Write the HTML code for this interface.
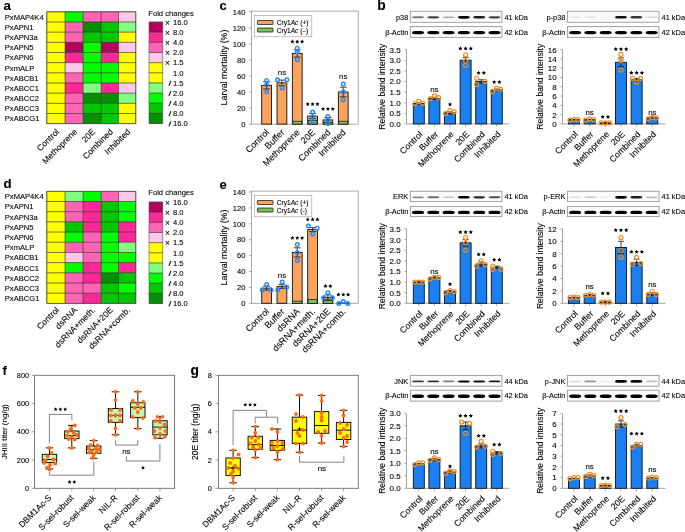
<!DOCTYPE html>
<html><head><meta charset="utf-8"><style>
html,body{margin:0;padding:0;background:#fff;}
svg{display:block;font-family:"Liberation Sans", sans-serif;will-change:transform;}
text{stroke:#000;stroke-width:0.18px;stroke-opacity:0.55;}
</style></head><body>
<svg width="685" height="532" viewBox="0 0 685 532">
<rect width="685" height="532" fill="#fff"/>
<text x="3.60" y="10.00" font-size="13.3" text-anchor="start" font-weight="bold" fill="#000">a</text>
<rect x="46.80" y="11.80" width="18.30" height="10.17" fill="#ffff00" stroke="none" stroke-width="0.8"/>
<rect x="65.10" y="11.80" width="18.00" height="10.17" fill="#00ff00" stroke="none" stroke-width="0.8"/>
<rect x="83.10" y="11.80" width="18.10" height="10.17" fill="#ff64b4" stroke="none" stroke-width="0.8"/>
<rect x="101.20" y="11.80" width="17.30" height="10.17" fill="#ff64b4" stroke="none" stroke-width="0.8"/>
<rect x="118.50" y="11.80" width="17.30" height="10.17" fill="#ffc8e6" stroke="none" stroke-width="0.8"/>
<rect x="46.80" y="21.97" width="18.30" height="10.17" fill="#ffff00" stroke="none" stroke-width="0.8"/>
<rect x="65.10" y="21.97" width="18.00" height="10.17" fill="#ff64b4" stroke="none" stroke-width="0.8"/>
<rect x="83.10" y="21.97" width="18.10" height="10.17" fill="#009000" stroke="none" stroke-width="0.8"/>
<rect x="101.20" y="21.97" width="17.30" height="10.17" fill="#00c800" stroke="none" stroke-width="0.8"/>
<rect x="118.50" y="21.97" width="17.30" height="10.17" fill="#80ff80" stroke="none" stroke-width="0.8"/>
<rect x="46.80" y="32.15" width="18.30" height="10.17" fill="#ffff00" stroke="none" stroke-width="0.8"/>
<rect x="65.10" y="32.15" width="18.00" height="10.17" fill="#ff64b4" stroke="none" stroke-width="0.8"/>
<rect x="83.10" y="32.15" width="18.10" height="10.17" fill="#00c800" stroke="none" stroke-width="0.8"/>
<rect x="101.20" y="32.15" width="17.30" height="10.17" fill="#00c800" stroke="none" stroke-width="0.8"/>
<rect x="118.50" y="32.15" width="17.30" height="10.17" fill="#ffff00" stroke="none" stroke-width="0.8"/>
<rect x="46.80" y="42.32" width="18.30" height="10.17" fill="#ffff00" stroke="none" stroke-width="0.8"/>
<rect x="65.10" y="42.32" width="18.00" height="10.17" fill="#b4005a" stroke="none" stroke-width="0.8"/>
<rect x="83.10" y="42.32" width="18.10" height="10.17" fill="#00ff00" stroke="none" stroke-width="0.8"/>
<rect x="101.20" y="42.32" width="17.30" height="10.17" fill="#b4005a" stroke="none" stroke-width="0.8"/>
<rect x="118.50" y="42.32" width="17.30" height="10.17" fill="#ffc8e6" stroke="none" stroke-width="0.8"/>
<rect x="46.80" y="52.49" width="18.30" height="10.17" fill="#ffff00" stroke="none" stroke-width="0.8"/>
<rect x="65.10" y="52.49" width="18.00" height="10.17" fill="#ff2896" stroke="none" stroke-width="0.8"/>
<rect x="83.10" y="52.49" width="18.10" height="10.17" fill="#00ff00" stroke="none" stroke-width="0.8"/>
<rect x="101.20" y="52.49" width="17.30" height="10.17" fill="#ff2896" stroke="none" stroke-width="0.8"/>
<rect x="118.50" y="52.49" width="17.30" height="10.17" fill="#ffff00" stroke="none" stroke-width="0.8"/>
<rect x="46.80" y="62.66" width="18.30" height="10.17" fill="#ffff00" stroke="none" stroke-width="0.8"/>
<rect x="65.10" y="62.66" width="18.00" height="10.17" fill="#ffc8e6" stroke="none" stroke-width="0.8"/>
<rect x="83.10" y="62.66" width="18.10" height="10.17" fill="#00ff00" stroke="none" stroke-width="0.8"/>
<rect x="101.20" y="62.66" width="17.30" height="10.17" fill="#00ff00" stroke="none" stroke-width="0.8"/>
<rect x="118.50" y="62.66" width="17.30" height="10.17" fill="#ffff00" stroke="none" stroke-width="0.8"/>
<rect x="46.80" y="72.84" width="18.30" height="10.17" fill="#ffff00" stroke="none" stroke-width="0.8"/>
<rect x="65.10" y="72.84" width="18.00" height="10.17" fill="#ff64b4" stroke="none" stroke-width="0.8"/>
<rect x="83.10" y="72.84" width="18.10" height="10.17" fill="#00ff00" stroke="none" stroke-width="0.8"/>
<rect x="101.20" y="72.84" width="17.30" height="10.17" fill="#00ff00" stroke="none" stroke-width="0.8"/>
<rect x="118.50" y="72.84" width="17.30" height="10.17" fill="#ffff00" stroke="none" stroke-width="0.8"/>
<rect x="46.80" y="83.01" width="18.30" height="10.17" fill="#ffff00" stroke="none" stroke-width="0.8"/>
<rect x="65.10" y="83.01" width="18.00" height="10.17" fill="#ff2896" stroke="none" stroke-width="0.8"/>
<rect x="83.10" y="83.01" width="18.10" height="10.17" fill="#80ff80" stroke="none" stroke-width="0.8"/>
<rect x="101.20" y="83.01" width="17.30" height="10.17" fill="#ff2896" stroke="none" stroke-width="0.8"/>
<rect x="118.50" y="83.01" width="17.30" height="10.17" fill="#ffc8e6" stroke="none" stroke-width="0.8"/>
<rect x="46.80" y="93.18" width="18.30" height="10.17" fill="#ffff00" stroke="none" stroke-width="0.8"/>
<rect x="65.10" y="93.18" width="18.00" height="10.17" fill="#ff64b4" stroke="none" stroke-width="0.8"/>
<rect x="83.10" y="93.18" width="18.10" height="10.17" fill="#009000" stroke="none" stroke-width="0.8"/>
<rect x="101.20" y="93.18" width="17.30" height="10.17" fill="#009000" stroke="none" stroke-width="0.8"/>
<rect x="118.50" y="93.18" width="17.30" height="10.17" fill="#80ff80" stroke="none" stroke-width="0.8"/>
<rect x="46.80" y="103.35" width="18.30" height="10.17" fill="#ffff00" stroke="none" stroke-width="0.8"/>
<rect x="65.10" y="103.35" width="18.00" height="10.17" fill="#ff64b4" stroke="none" stroke-width="0.8"/>
<rect x="83.10" y="103.35" width="18.10" height="10.17" fill="#00c800" stroke="none" stroke-width="0.8"/>
<rect x="101.20" y="103.35" width="17.30" height="10.17" fill="#00c800" stroke="none" stroke-width="0.8"/>
<rect x="118.50" y="103.35" width="17.30" height="10.17" fill="#ffff00" stroke="none" stroke-width="0.8"/>
<rect x="46.80" y="113.53" width="18.30" height="10.17" fill="#ffff00" stroke="none" stroke-width="0.8"/>
<rect x="65.10" y="113.53" width="18.00" height="10.17" fill="#ff64b4" stroke="none" stroke-width="0.8"/>
<rect x="83.10" y="113.53" width="18.10" height="10.17" fill="#009000" stroke="none" stroke-width="0.8"/>
<rect x="101.20" y="113.53" width="17.30" height="10.17" fill="#00c800" stroke="none" stroke-width="0.8"/>
<rect x="118.50" y="113.53" width="17.30" height="10.17" fill="#ffff00" stroke="none" stroke-width="0.8"/>
<line x1="46.80" y1="11.80" x2="135.80" y2="11.80" stroke="#222" stroke-width="0.6"/>
<line x1="46.80" y1="21.97" x2="135.80" y2="21.97" stroke="#222" stroke-width="0.6"/>
<line x1="46.80" y1="32.15" x2="135.80" y2="32.15" stroke="#222" stroke-width="0.6"/>
<line x1="46.80" y1="42.32" x2="135.80" y2="42.32" stroke="#222" stroke-width="0.6"/>
<line x1="46.80" y1="52.49" x2="135.80" y2="52.49" stroke="#222" stroke-width="0.6"/>
<line x1="46.80" y1="62.66" x2="135.80" y2="62.66" stroke="#222" stroke-width="0.6"/>
<line x1="46.80" y1="72.84" x2="135.80" y2="72.84" stroke="#222" stroke-width="0.6"/>
<line x1="46.80" y1="83.01" x2="135.80" y2="83.01" stroke="#222" stroke-width="0.6"/>
<line x1="46.80" y1="93.18" x2="135.80" y2="93.18" stroke="#222" stroke-width="0.6"/>
<line x1="46.80" y1="103.35" x2="135.80" y2="103.35" stroke="#222" stroke-width="0.6"/>
<line x1="46.80" y1="113.53" x2="135.80" y2="113.53" stroke="#222" stroke-width="0.6"/>
<line x1="46.80" y1="123.70" x2="135.80" y2="123.70" stroke="#222" stroke-width="0.6"/>
<line x1="46.80" y1="11.80" x2="46.80" y2="123.70" stroke="#222" stroke-width="0.6"/>
<line x1="65.10" y1="11.80" x2="65.10" y2="123.70" stroke="#222" stroke-width="0.6"/>
<line x1="83.10" y1="11.80" x2="83.10" y2="123.70" stroke="#222" stroke-width="0.6"/>
<line x1="101.20" y1="11.80" x2="101.20" y2="123.70" stroke="#222" stroke-width="0.6"/>
<line x1="118.50" y1="11.80" x2="118.50" y2="123.70" stroke="#222" stroke-width="0.6"/>
<line x1="135.80" y1="11.80" x2="135.80" y2="123.70" stroke="#222" stroke-width="0.6"/>
<rect x="46.80" y="11.80" width="89.00" height="111.90" fill="none" stroke="#555" stroke-width="0.6"/>
<text x="4.80" y="19.69" font-size="7.6" text-anchor="start" font-weight="normal" fill="#000">PxMAP4K4</text>
<text x="4.80" y="29.86" font-size="7.6" text-anchor="start" font-weight="normal" fill="#000">PxAPN1</text>
<text x="4.80" y="40.03" font-size="7.6" text-anchor="start" font-weight="normal" fill="#000">PxAPN3a</text>
<text x="4.80" y="50.20" font-size="7.6" text-anchor="start" font-weight="normal" fill="#000">PxAPN5</text>
<text x="4.80" y="60.38" font-size="7.6" text-anchor="start" font-weight="normal" fill="#000">PxAPN6</text>
<text x="4.80" y="70.55" font-size="7.6" text-anchor="start" font-weight="normal" fill="#000">PxmALP</text>
<text x="4.80" y="80.72" font-size="7.6" text-anchor="start" font-weight="normal" fill="#000">PxABCB1</text>
<text x="4.80" y="90.90" font-size="7.6" text-anchor="start" font-weight="normal" fill="#000">PxABCC1</text>
<text x="4.80" y="101.07" font-size="7.6" text-anchor="start" font-weight="normal" fill="#000">PxABCC2</text>
<text x="4.80" y="111.24" font-size="7.6" text-anchor="start" font-weight="normal" fill="#000">PxABCC3</text>
<text x="4.80" y="121.41" font-size="7.6" text-anchor="start" font-weight="normal" fill="#000">PxABCG1</text>
<text x="59.65" y="132.30" font-size="8.5" text-anchor="end" font-weight="normal" fill="#000" transform="rotate(-45 59.65 132.30)">Control</text>
<text x="77.80" y="132.30" font-size="8.5" text-anchor="end" font-weight="normal" fill="#000" transform="rotate(-45 77.80 132.30)">Methoprene</text>
<text x="95.85" y="132.30" font-size="8.5" text-anchor="end" font-weight="normal" fill="#000" transform="rotate(-45 95.85 132.30)">20E</text>
<text x="113.55" y="132.30" font-size="8.5" text-anchor="end" font-weight="normal" fill="#000" transform="rotate(-45 113.55 132.30)">Combined</text>
<text x="130.85" y="132.30" font-size="8.5" text-anchor="end" font-weight="normal" fill="#000" transform="rotate(-45 130.85 132.30)">Inhibited</text>
<text x="148.30" y="15.80" font-size="7.6" text-anchor="start" font-weight="normal" fill="#000">Fold changes</text>
<rect x="149.00" y="22.10" width="13.80" height="10.14" fill="#b4005a" stroke="none" stroke-width="0.8"/>
<rect x="149.00" y="32.24" width="13.80" height="10.14" fill="#ff2896" stroke="none" stroke-width="0.8"/>
<rect x="149.00" y="42.38" width="13.80" height="10.14" fill="#ff64b4" stroke="none" stroke-width="0.8"/>
<rect x="149.00" y="52.52" width="13.80" height="10.14" fill="#ffc8e6" stroke="none" stroke-width="0.8"/>
<rect x="149.00" y="62.66" width="13.80" height="10.14" fill="#ffff00" stroke="none" stroke-width="0.8"/>
<rect x="149.00" y="72.80" width="13.80" height="10.14" fill="#ffff00" stroke="none" stroke-width="0.8"/>
<rect x="149.00" y="82.94" width="13.80" height="10.14" fill="#80ff80" stroke="none" stroke-width="0.8"/>
<rect x="149.00" y="93.08" width="13.80" height="10.14" fill="#00ff00" stroke="none" stroke-width="0.8"/>
<rect x="149.00" y="103.22" width="13.80" height="10.14" fill="#00c800" stroke="none" stroke-width="0.8"/>
<rect x="149.00" y="113.36" width="13.80" height="10.14" fill="#009000" stroke="none" stroke-width="0.8"/>
<line x1="149.00" y1="22.10" x2="162.80" y2="22.10" stroke="#222" stroke-width="0.6"/>
<line x1="149.00" y1="32.24" x2="162.80" y2="32.24" stroke="#222" stroke-width="0.6"/>
<line x1="149.00" y1="42.38" x2="162.80" y2="42.38" stroke="#222" stroke-width="0.6"/>
<line x1="149.00" y1="52.52" x2="162.80" y2="52.52" stroke="#222" stroke-width="0.6"/>
<line x1="149.00" y1="62.66" x2="162.80" y2="62.66" stroke="#222" stroke-width="0.6"/>
<line x1="149.00" y1="72.80" x2="162.80" y2="72.80" stroke="#222" stroke-width="0.6"/>
<line x1="149.00" y1="82.94" x2="162.80" y2="82.94" stroke="#222" stroke-width="0.6"/>
<line x1="149.00" y1="93.08" x2="162.80" y2="93.08" stroke="#222" stroke-width="0.6"/>
<line x1="149.00" y1="103.22" x2="162.80" y2="103.22" stroke="#222" stroke-width="0.6"/>
<line x1="149.00" y1="113.36" x2="162.80" y2="113.36" stroke="#222" stroke-width="0.6"/>
<line x1="149.00" y1="123.50" x2="162.80" y2="123.50" stroke="#222" stroke-width="0.6"/>
<rect x="149.00" y="22.10" width="13.80" height="101.40" fill="none" stroke="#555" stroke-width="0.6"/>
<text x="164.90" y="25.80" font-size="8.4" text-anchor="start" font-weight="normal" fill="#000">×</text>
<text x="173.00" y="24.80" font-size="7.6" text-anchor="start" font-weight="normal" fill="#000">16.0</text>
<text x="164.90" y="35.94" font-size="8.4" text-anchor="start" font-weight="normal" fill="#000">×</text>
<text x="173.00" y="34.94" font-size="7.6" text-anchor="start" font-weight="normal" fill="#000">8.0</text>
<text x="164.90" y="46.08" font-size="8.4" text-anchor="start" font-weight="normal" fill="#000">×</text>
<text x="173.00" y="45.08" font-size="7.6" text-anchor="start" font-weight="normal" fill="#000">4.0</text>
<text x="164.90" y="56.22" font-size="8.4" text-anchor="start" font-weight="normal" fill="#000">×</text>
<text x="173.00" y="55.22" font-size="7.6" text-anchor="start" font-weight="normal" fill="#000">2.0</text>
<text x="164.90" y="66.36" font-size="8.4" text-anchor="start" font-weight="normal" fill="#000">×</text>
<text x="173.00" y="65.36" font-size="7.6" text-anchor="start" font-weight="normal" fill="#000">1.5</text>
<text x="173.00" y="75.50" font-size="7.6" text-anchor="start" font-weight="normal" fill="#000">1.0</text>
<line x1="168.90" y1="85.84" x2="170.90" y2="80.74" stroke="#111" stroke-width="1.05"/>
<text x="173.00" y="85.64" font-size="7.6" text-anchor="start" font-weight="normal" fill="#000">1.5</text>
<line x1="168.90" y1="95.98" x2="170.90" y2="90.88" stroke="#111" stroke-width="1.05"/>
<text x="173.00" y="95.78" font-size="7.6" text-anchor="start" font-weight="normal" fill="#000">2.0</text>
<line x1="168.90" y1="106.12" x2="170.90" y2="101.02" stroke="#111" stroke-width="1.05"/>
<text x="173.00" y="105.92" font-size="7.6" text-anchor="start" font-weight="normal" fill="#000">4.0</text>
<line x1="168.90" y1="116.26" x2="170.90" y2="111.16" stroke="#111" stroke-width="1.05"/>
<text x="173.00" y="116.06" font-size="7.6" text-anchor="start" font-weight="normal" fill="#000">8.0</text>
<line x1="168.90" y1="126.40" x2="170.90" y2="121.30" stroke="#111" stroke-width="1.05"/>
<text x="173.00" y="126.20" font-size="7.6" text-anchor="start" font-weight="normal" fill="#000">16.0</text>
<text x="3.60" y="188.40" font-size="13.3" text-anchor="start" font-weight="bold" fill="#000">d</text>
<rect x="46.80" y="191.30" width="18.30" height="10.19" fill="#ffff00" stroke="none" stroke-width="0.8"/>
<rect x="65.10" y="191.30" width="18.00" height="10.19" fill="#80ff80" stroke="none" stroke-width="0.8"/>
<rect x="83.10" y="191.30" width="18.10" height="10.19" fill="#00ff00" stroke="none" stroke-width="0.8"/>
<rect x="101.20" y="191.30" width="17.30" height="10.19" fill="#ff64b4" stroke="none" stroke-width="0.8"/>
<rect x="118.50" y="191.30" width="17.30" height="10.19" fill="#ffc8e6" stroke="none" stroke-width="0.8"/>
<rect x="46.80" y="201.49" width="18.30" height="10.19" fill="#ffff00" stroke="none" stroke-width="0.8"/>
<rect x="65.10" y="201.49" width="18.00" height="10.19" fill="#ff64b4" stroke="none" stroke-width="0.8"/>
<rect x="83.10" y="201.49" width="18.10" height="10.19" fill="#ff2896" stroke="none" stroke-width="0.8"/>
<rect x="101.20" y="201.49" width="17.30" height="10.19" fill="#00c800" stroke="none" stroke-width="0.8"/>
<rect x="118.50" y="201.49" width="17.30" height="10.19" fill="#00ff00" stroke="none" stroke-width="0.8"/>
<rect x="46.80" y="211.68" width="18.30" height="10.19" fill="#ffff00" stroke="none" stroke-width="0.8"/>
<rect x="65.10" y="211.68" width="18.00" height="10.19" fill="#ff64b4" stroke="none" stroke-width="0.8"/>
<rect x="83.10" y="211.68" width="18.10" height="10.19" fill="#ff2896" stroke="none" stroke-width="0.8"/>
<rect x="101.20" y="211.68" width="17.30" height="10.19" fill="#00c800" stroke="none" stroke-width="0.8"/>
<rect x="118.50" y="211.68" width="17.30" height="10.19" fill="#00ff00" stroke="none" stroke-width="0.8"/>
<rect x="46.80" y="221.87" width="18.30" height="10.19" fill="#ffff00" stroke="none" stroke-width="0.8"/>
<rect x="65.10" y="221.87" width="18.00" height="10.19" fill="#00c800" stroke="none" stroke-width="0.8"/>
<rect x="83.10" y="221.87" width="18.10" height="10.19" fill="#ff2896" stroke="none" stroke-width="0.8"/>
<rect x="101.20" y="221.87" width="17.30" height="10.19" fill="#00c800" stroke="none" stroke-width="0.8"/>
<rect x="118.50" y="221.87" width="17.30" height="10.19" fill="#ff2896" stroke="none" stroke-width="0.8"/>
<rect x="46.80" y="232.06" width="18.30" height="10.19" fill="#ffff00" stroke="none" stroke-width="0.8"/>
<rect x="65.10" y="232.06" width="18.00" height="10.19" fill="#00ff00" stroke="none" stroke-width="0.8"/>
<rect x="83.10" y="232.06" width="18.10" height="10.19" fill="#ff64b4" stroke="none" stroke-width="0.8"/>
<rect x="101.20" y="232.06" width="17.30" height="10.19" fill="#00ff00" stroke="none" stroke-width="0.8"/>
<rect x="118.50" y="232.06" width="17.30" height="10.19" fill="#ff2896" stroke="none" stroke-width="0.8"/>
<rect x="46.80" y="242.25" width="18.30" height="10.19" fill="#ffff00" stroke="none" stroke-width="0.8"/>
<rect x="65.10" y="242.25" width="18.00" height="10.19" fill="#ff64b4" stroke="none" stroke-width="0.8"/>
<rect x="83.10" y="242.25" width="18.10" height="10.19" fill="#ff64b4" stroke="none" stroke-width="0.8"/>
<rect x="101.20" y="242.25" width="17.30" height="10.19" fill="#00ff00" stroke="none" stroke-width="0.8"/>
<rect x="118.50" y="242.25" width="17.30" height="10.19" fill="#80ff80" stroke="none" stroke-width="0.8"/>
<rect x="46.80" y="252.45" width="18.30" height="10.19" fill="#ffff00" stroke="none" stroke-width="0.8"/>
<rect x="65.10" y="252.45" width="18.00" height="10.19" fill="#ffc8e6" stroke="none" stroke-width="0.8"/>
<rect x="83.10" y="252.45" width="18.10" height="10.19" fill="#ff64b4" stroke="none" stroke-width="0.8"/>
<rect x="101.20" y="252.45" width="17.30" height="10.19" fill="#00ff00" stroke="none" stroke-width="0.8"/>
<rect x="118.50" y="252.45" width="17.30" height="10.19" fill="#00ff00" stroke="none" stroke-width="0.8"/>
<rect x="46.80" y="262.64" width="18.30" height="10.19" fill="#ffff00" stroke="none" stroke-width="0.8"/>
<rect x="65.10" y="262.64" width="18.00" height="10.19" fill="#00ff00" stroke="none" stroke-width="0.8"/>
<rect x="83.10" y="262.64" width="18.10" height="10.19" fill="#ff2896" stroke="none" stroke-width="0.8"/>
<rect x="101.20" y="262.64" width="17.30" height="10.19" fill="#00ff00" stroke="none" stroke-width="0.8"/>
<rect x="118.50" y="262.64" width="17.30" height="10.19" fill="#ff2896" stroke="none" stroke-width="0.8"/>
<rect x="46.80" y="272.83" width="18.30" height="10.19" fill="#ffff00" stroke="none" stroke-width="0.8"/>
<rect x="65.10" y="272.83" width="18.00" height="10.19" fill="#ff64b4" stroke="none" stroke-width="0.8"/>
<rect x="83.10" y="272.83" width="18.10" height="10.19" fill="#ff2896" stroke="none" stroke-width="0.8"/>
<rect x="101.20" y="272.83" width="17.30" height="10.19" fill="#009000" stroke="none" stroke-width="0.8"/>
<rect x="118.50" y="272.83" width="17.30" height="10.19" fill="#00c800" stroke="none" stroke-width="0.8"/>
<rect x="46.80" y="283.02" width="18.30" height="10.19" fill="#ffff00" stroke="none" stroke-width="0.8"/>
<rect x="65.10" y="283.02" width="18.00" height="10.19" fill="#ff64b4" stroke="none" stroke-width="0.8"/>
<rect x="83.10" y="283.02" width="18.10" height="10.19" fill="#ff64b4" stroke="none" stroke-width="0.8"/>
<rect x="101.20" y="283.02" width="17.30" height="10.19" fill="#00c800" stroke="none" stroke-width="0.8"/>
<rect x="118.50" y="283.02" width="17.30" height="10.19" fill="#00ff00" stroke="none" stroke-width="0.8"/>
<rect x="46.80" y="293.21" width="18.30" height="10.19" fill="#ffff00" stroke="none" stroke-width="0.8"/>
<rect x="65.10" y="293.21" width="18.00" height="10.19" fill="#ff64b4" stroke="none" stroke-width="0.8"/>
<rect x="83.10" y="293.21" width="18.10" height="10.19" fill="#ff2896" stroke="none" stroke-width="0.8"/>
<rect x="101.20" y="293.21" width="17.30" height="10.19" fill="#00c800" stroke="none" stroke-width="0.8"/>
<rect x="118.50" y="293.21" width="17.30" height="10.19" fill="#00c800" stroke="none" stroke-width="0.8"/>
<line x1="46.80" y1="191.30" x2="135.80" y2="191.30" stroke="#222" stroke-width="0.6"/>
<line x1="46.80" y1="201.49" x2="135.80" y2="201.49" stroke="#222" stroke-width="0.6"/>
<line x1="46.80" y1="211.68" x2="135.80" y2="211.68" stroke="#222" stroke-width="0.6"/>
<line x1="46.80" y1="221.87" x2="135.80" y2="221.87" stroke="#222" stroke-width="0.6"/>
<line x1="46.80" y1="232.06" x2="135.80" y2="232.06" stroke="#222" stroke-width="0.6"/>
<line x1="46.80" y1="242.25" x2="135.80" y2="242.25" stroke="#222" stroke-width="0.6"/>
<line x1="46.80" y1="252.45" x2="135.80" y2="252.45" stroke="#222" stroke-width="0.6"/>
<line x1="46.80" y1="262.64" x2="135.80" y2="262.64" stroke="#222" stroke-width="0.6"/>
<line x1="46.80" y1="272.83" x2="135.80" y2="272.83" stroke="#222" stroke-width="0.6"/>
<line x1="46.80" y1="283.02" x2="135.80" y2="283.02" stroke="#222" stroke-width="0.6"/>
<line x1="46.80" y1="293.21" x2="135.80" y2="293.21" stroke="#222" stroke-width="0.6"/>
<line x1="46.80" y1="303.40" x2="135.80" y2="303.40" stroke="#222" stroke-width="0.6"/>
<line x1="46.80" y1="191.30" x2="46.80" y2="303.40" stroke="#222" stroke-width="0.6"/>
<line x1="65.10" y1="191.30" x2="65.10" y2="303.40" stroke="#222" stroke-width="0.6"/>
<line x1="83.10" y1="191.30" x2="83.10" y2="303.40" stroke="#222" stroke-width="0.6"/>
<line x1="101.20" y1="191.30" x2="101.20" y2="303.40" stroke="#222" stroke-width="0.6"/>
<line x1="118.50" y1="191.30" x2="118.50" y2="303.40" stroke="#222" stroke-width="0.6"/>
<line x1="135.80" y1="191.30" x2="135.80" y2="303.40" stroke="#222" stroke-width="0.6"/>
<rect x="46.80" y="191.30" width="89.00" height="112.10" fill="none" stroke="#555" stroke-width="0.6"/>
<text x="4.80" y="199.20" font-size="7.6" text-anchor="start" font-weight="normal" fill="#000">PxMAP4K4</text>
<text x="4.80" y="209.39" font-size="7.6" text-anchor="start" font-weight="normal" fill="#000">PxAPN1</text>
<text x="4.80" y="219.58" font-size="7.6" text-anchor="start" font-weight="normal" fill="#000">PxAPN3a</text>
<text x="4.80" y="229.77" font-size="7.6" text-anchor="start" font-weight="normal" fill="#000">PxAPN5</text>
<text x="4.80" y="239.96" font-size="7.6" text-anchor="start" font-weight="normal" fill="#000">PxAPN6</text>
<text x="4.80" y="250.15" font-size="7.6" text-anchor="start" font-weight="normal" fill="#000">PxmALP</text>
<text x="4.80" y="260.34" font-size="7.6" text-anchor="start" font-weight="normal" fill="#000">PxABCB1</text>
<text x="4.80" y="270.53" font-size="7.6" text-anchor="start" font-weight="normal" fill="#000">PxABCC1</text>
<text x="4.80" y="280.72" font-size="7.6" text-anchor="start" font-weight="normal" fill="#000">PxABCC2</text>
<text x="4.80" y="290.91" font-size="7.6" text-anchor="start" font-weight="normal" fill="#000">PxABCC3</text>
<text x="4.80" y="301.10" font-size="7.6" text-anchor="start" font-weight="normal" fill="#000">PxABCG1</text>
<text x="59.65" y="310.60" font-size="8.5" text-anchor="end" font-weight="normal" fill="#000" transform="rotate(-45 59.65 310.60)">Control</text>
<text x="77.80" y="310.60" font-size="8.5" text-anchor="end" font-weight="normal" fill="#000" transform="rotate(-45 77.80 310.60)">dsRNA</text>
<text x="95.85" y="310.60" font-size="8.5" text-anchor="end" font-weight="normal" fill="#000" transform="rotate(-45 95.85 310.60)">dsRNA+meth.</text>
<text x="113.55" y="310.60" font-size="8.5" text-anchor="end" font-weight="normal" fill="#000" transform="rotate(-45 113.55 310.60)">dsRNA+20E</text>
<text x="130.85" y="310.60" font-size="8.5" text-anchor="end" font-weight="normal" fill="#000" transform="rotate(-45 130.85 310.60)">dsRNA+comb.</text>
<text x="148.30" y="195.00" font-size="7.6" text-anchor="start" font-weight="normal" fill="#000">Fold changes</text>
<rect x="149.00" y="202.10" width="13.80" height="10.14" fill="#b4005a" stroke="none" stroke-width="0.8"/>
<rect x="149.00" y="212.24" width="13.80" height="10.14" fill="#ff2896" stroke="none" stroke-width="0.8"/>
<rect x="149.00" y="222.38" width="13.80" height="10.14" fill="#ff64b4" stroke="none" stroke-width="0.8"/>
<rect x="149.00" y="232.52" width="13.80" height="10.14" fill="#ffc8e6" stroke="none" stroke-width="0.8"/>
<rect x="149.00" y="242.66" width="13.80" height="10.14" fill="#ffff00" stroke="none" stroke-width="0.8"/>
<rect x="149.00" y="252.80" width="13.80" height="10.14" fill="#ffff00" stroke="none" stroke-width="0.8"/>
<rect x="149.00" y="262.94" width="13.80" height="10.14" fill="#80ff80" stroke="none" stroke-width="0.8"/>
<rect x="149.00" y="273.08" width="13.80" height="10.14" fill="#00ff00" stroke="none" stroke-width="0.8"/>
<rect x="149.00" y="283.22" width="13.80" height="10.14" fill="#00c800" stroke="none" stroke-width="0.8"/>
<rect x="149.00" y="293.36" width="13.80" height="10.14" fill="#009000" stroke="none" stroke-width="0.8"/>
<line x1="149.00" y1="202.10" x2="162.80" y2="202.10" stroke="#222" stroke-width="0.6"/>
<line x1="149.00" y1="212.24" x2="162.80" y2="212.24" stroke="#222" stroke-width="0.6"/>
<line x1="149.00" y1="222.38" x2="162.80" y2="222.38" stroke="#222" stroke-width="0.6"/>
<line x1="149.00" y1="232.52" x2="162.80" y2="232.52" stroke="#222" stroke-width="0.6"/>
<line x1="149.00" y1="242.66" x2="162.80" y2="242.66" stroke="#222" stroke-width="0.6"/>
<line x1="149.00" y1="252.80" x2="162.80" y2="252.80" stroke="#222" stroke-width="0.6"/>
<line x1="149.00" y1="262.94" x2="162.80" y2="262.94" stroke="#222" stroke-width="0.6"/>
<line x1="149.00" y1="273.08" x2="162.80" y2="273.08" stroke="#222" stroke-width="0.6"/>
<line x1="149.00" y1="283.22" x2="162.80" y2="283.22" stroke="#222" stroke-width="0.6"/>
<line x1="149.00" y1="293.36" x2="162.80" y2="293.36" stroke="#222" stroke-width="0.6"/>
<line x1="149.00" y1="303.50" x2="162.80" y2="303.50" stroke="#222" stroke-width="0.6"/>
<rect x="149.00" y="202.10" width="13.80" height="101.40" fill="none" stroke="#555" stroke-width="0.6"/>
<text x="164.90" y="205.80" font-size="8.4" text-anchor="start" font-weight="normal" fill="#000">×</text>
<text x="173.00" y="204.80" font-size="7.6" text-anchor="start" font-weight="normal" fill="#000">16.0</text>
<text x="164.90" y="215.94" font-size="8.4" text-anchor="start" font-weight="normal" fill="#000">×</text>
<text x="173.00" y="214.94" font-size="7.6" text-anchor="start" font-weight="normal" fill="#000">8.0</text>
<text x="164.90" y="226.08" font-size="8.4" text-anchor="start" font-weight="normal" fill="#000">×</text>
<text x="173.00" y="225.08" font-size="7.6" text-anchor="start" font-weight="normal" fill="#000">4.0</text>
<text x="164.90" y="236.22" font-size="8.4" text-anchor="start" font-weight="normal" fill="#000">×</text>
<text x="173.00" y="235.22" font-size="7.6" text-anchor="start" font-weight="normal" fill="#000">2.0</text>
<text x="164.90" y="246.36" font-size="8.4" text-anchor="start" font-weight="normal" fill="#000">×</text>
<text x="173.00" y="245.36" font-size="7.6" text-anchor="start" font-weight="normal" fill="#000">1.5</text>
<text x="173.00" y="255.50" font-size="7.6" text-anchor="start" font-weight="normal" fill="#000">1.0</text>
<line x1="168.90" y1="265.84" x2="170.90" y2="260.74" stroke="#111" stroke-width="1.05"/>
<text x="173.00" y="265.64" font-size="7.6" text-anchor="start" font-weight="normal" fill="#000">1.5</text>
<line x1="168.90" y1="275.98" x2="170.90" y2="270.88" stroke="#111" stroke-width="1.05"/>
<text x="173.00" y="275.78" font-size="7.6" text-anchor="start" font-weight="normal" fill="#000">2.0</text>
<line x1="168.90" y1="286.12" x2="170.90" y2="281.02" stroke="#111" stroke-width="1.05"/>
<text x="173.00" y="285.92" font-size="7.6" text-anchor="start" font-weight="normal" fill="#000">4.0</text>
<line x1="168.90" y1="296.26" x2="170.90" y2="291.16" stroke="#111" stroke-width="1.05"/>
<text x="173.00" y="296.06" font-size="7.6" text-anchor="start" font-weight="normal" fill="#000">8.0</text>
<line x1="168.90" y1="306.40" x2="170.90" y2="301.30" stroke="#111" stroke-width="1.05"/>
<text x="173.00" y="306.20" font-size="7.6" text-anchor="start" font-weight="normal" fill="#000">16.0</text>
<text x="219.40" y="10.00" font-size="13" text-anchor="start" font-weight="bold" fill="#000">c</text>
<rect x="251.40" y="11.10" width="106.80" height="113.00" fill="none" stroke="#888" stroke-width="0.7"/>
<line x1="249.20" y1="124.10" x2="251.40" y2="124.10" stroke="#666" stroke-width="0.6"/>
<text x="245.40" y="126.80" font-size="7.6" text-anchor="end" font-weight="normal" fill="#000">0</text>
<line x1="249.20" y1="108.06" x2="251.40" y2="108.06" stroke="#666" stroke-width="0.6"/>
<text x="245.40" y="110.76" font-size="7.6" text-anchor="end" font-weight="normal" fill="#000">20</text>
<line x1="249.20" y1="92.01" x2="251.40" y2="92.01" stroke="#666" stroke-width="0.6"/>
<text x="245.40" y="94.71" font-size="7.6" text-anchor="end" font-weight="normal" fill="#000">40</text>
<line x1="249.20" y1="75.97" x2="251.40" y2="75.97" stroke="#666" stroke-width="0.6"/>
<text x="245.40" y="78.67" font-size="7.6" text-anchor="end" font-weight="normal" fill="#000">60</text>
<line x1="249.20" y1="59.93" x2="251.40" y2="59.93" stroke="#666" stroke-width="0.6"/>
<text x="245.40" y="62.63" font-size="7.6" text-anchor="end" font-weight="normal" fill="#000">80</text>
<line x1="249.20" y1="43.89" x2="251.40" y2="43.89" stroke="#666" stroke-width="0.6"/>
<text x="245.40" y="46.59" font-size="7.6" text-anchor="end" font-weight="normal" fill="#000">100</text>
<line x1="249.20" y1="27.84" x2="251.40" y2="27.84" stroke="#666" stroke-width="0.6"/>
<text x="245.40" y="30.54" font-size="7.6" text-anchor="end" font-weight="normal" fill="#000">120</text>
<line x1="249.20" y1="11.80" x2="251.40" y2="11.80" stroke="#666" stroke-width="0.6"/>
<text x="245.40" y="14.50" font-size="7.6" text-anchor="end" font-weight="normal" fill="#000">140</text>
<text x="226.80" y="67.50" font-size="8.8" text-anchor="middle" font-weight="normal" fill="#000" transform="rotate(-90 226.80 67.50)">Larval mortality (%)</text>
<rect x="254.30" y="15.30" width="57.50" height="21.50" fill="#fff" stroke="#999" stroke-width="0.6"/>
<rect x="257.50" y="20.50" width="15.50" height="4.00" fill="#f9a35c" stroke="#222" stroke-width="0.8" rx="0.4"/>
<rect x="257.50" y="28.00" width="15.50" height="4.00" fill="#78c456" stroke="#222" stroke-width="0.8" rx="0.4"/>
<text x="276.8" y="25.20" font-size="6.6" fill="#000">Cry1<tspan font-style="italic">Ac</tspan> (+)</text>
<text x="276.8" y="32.60" font-size="6.6" fill="#000">Cry1<tspan font-style="italic">Ac</tspan> (–)</text>
<rect x="261.70" y="85.36" width="9.80" height="38.74" fill="#f9a35c" stroke="#111" stroke-width="0.9"/>
<line x1="266.60" y1="81.75" x2="266.60" y2="88.97" stroke="#111" stroke-width="0.8"/>
<line x1="263.10" y1="81.75" x2="270.10" y2="81.75" stroke="#111" stroke-width="0.8"/>
<line x1="263.10" y1="88.97" x2="270.10" y2="88.97" stroke="#111" stroke-width="0.8"/>
<circle cx="266.60" cy="80.40" r="1.80" fill="none" stroke="#1e88ff" stroke-width="1.4"/>
<circle cx="266.60" cy="85.00" r="1.80" fill="none" stroke="#1e88ff" stroke-width="1.4"/>
<circle cx="266.60" cy="92.00" r="1.80" fill="none" stroke="#1e88ff" stroke-width="1.4"/>
<rect x="277.03" y="82.87" width="9.80" height="41.23" fill="#f9a35c" stroke="#111" stroke-width="0.9"/>
<line x1="281.93" y1="80.06" x2="281.93" y2="85.68" stroke="#111" stroke-width="0.8"/>
<line x1="278.43" y1="80.06" x2="285.43" y2="80.06" stroke="#111" stroke-width="0.8"/>
<line x1="278.43" y1="85.68" x2="285.43" y2="85.68" stroke="#111" stroke-width="0.8"/>
<circle cx="277.53" cy="79.80" r="1.80" fill="none" stroke="#1e88ff" stroke-width="1.4"/>
<circle cx="286.83" cy="79.80" r="1.80" fill="none" stroke="#1e88ff" stroke-width="1.4"/>
<circle cx="282.23" cy="87.90" r="1.80" fill="none" stroke="#1e88ff" stroke-width="1.4"/>
<text x="281.93" y="74.50" font-size="7.9" text-anchor="middle" font-weight="normal" fill="#000">ns</text>
<rect x="292.36" y="53.51" width="9.80" height="70.59" fill="#f9a35c" stroke="#111" stroke-width="0.9"/>
<rect x="292.76" y="121.21" width="9.00" height="2.89" fill="#78c456" stroke="#111" stroke-width="0.7"/>
<line x1="297.26" y1="49.90" x2="297.26" y2="57.12" stroke="#111" stroke-width="0.8"/>
<line x1="293.76" y1="49.90" x2="300.76" y2="49.90" stroke="#111" stroke-width="0.8"/>
<line x1="293.76" y1="57.12" x2="300.76" y2="57.12" stroke="#111" stroke-width="0.8"/>
<circle cx="297.26" cy="48.20" r="1.80" fill="none" stroke="#1e88ff" stroke-width="1.4"/>
<circle cx="297.26" cy="52.00" r="1.80" fill="none" stroke="#1e88ff" stroke-width="1.4"/>
<circle cx="297.26" cy="59.70" r="1.80" fill="none" stroke="#1e88ff" stroke-width="1.4"/>
<polygon points="292.41,39.55 293.04,40.83 294.45,41.04 293.43,42.03 293.67,43.44 292.41,42.78 291.15,43.44 291.39,42.03 290.37,41.04 291.78,40.83" fill="#000"/>
<polygon points="297.26,39.55 297.89,40.83 299.30,41.04 298.28,42.03 298.52,43.44 297.26,42.78 296.00,43.44 296.24,42.03 295.22,41.04 296.63,40.83" fill="#000"/>
<polygon points="302.11,39.55 302.74,40.83 304.15,41.04 303.13,42.03 303.37,43.44 302.11,42.78 300.85,43.44 301.09,42.03 300.07,41.04 301.48,40.83" fill="#000"/>
<rect x="307.69" y="116.08" width="9.80" height="8.02" fill="#f9a35c" stroke="#111" stroke-width="0.9"/>
<rect x="308.09" y="120.41" width="9.00" height="3.69" fill="#78c456" stroke="#111" stroke-width="0.7"/>
<line x1="312.59" y1="113.51" x2="312.59" y2="118.65" stroke="#111" stroke-width="0.8"/>
<line x1="309.09" y1="113.51" x2="316.09" y2="113.51" stroke="#111" stroke-width="0.8"/>
<line x1="309.09" y1="118.65" x2="316.09" y2="118.65" stroke="#111" stroke-width="0.8"/>
<circle cx="312.59" cy="112.10" r="1.80" fill="none" stroke="#1e88ff" stroke-width="1.4"/>
<circle cx="312.59" cy="116.80" r="1.80" fill="none" stroke="#1e88ff" stroke-width="1.4"/>
<circle cx="312.59" cy="121.20" r="1.80" fill="none" stroke="#1e88ff" stroke-width="1.4"/>
<polygon points="307.74,102.05 308.37,103.33 309.78,103.54 308.76,104.53 309.00,105.94 307.74,105.28 306.48,105.94 306.72,104.53 305.70,103.54 307.11,103.33" fill="#000"/>
<polygon points="312.59,102.05 313.22,103.33 314.63,103.54 313.61,104.53 313.85,105.94 312.59,105.28 311.33,105.94 311.57,104.53 310.55,103.54 311.96,103.33" fill="#000"/>
<polygon points="317.44,102.05 318.07,103.33 319.48,103.54 318.46,104.53 318.70,105.94 317.44,105.28 316.18,105.94 316.42,104.53 315.40,103.54 316.81,103.33" fill="#000"/>
<rect x="323.02" y="119.93" width="9.80" height="4.17" fill="#f9a35c" stroke="#111" stroke-width="0.9"/>
<rect x="323.42" y="122.66" width="9.00" height="1.44" fill="#78c456" stroke="#111" stroke-width="0.7"/>
<line x1="327.92" y1="117.52" x2="327.92" y2="122.34" stroke="#111" stroke-width="0.8"/>
<line x1="324.42" y1="117.52" x2="331.42" y2="117.52" stroke="#111" stroke-width="0.8"/>
<line x1="324.42" y1="122.34" x2="331.42" y2="122.34" stroke="#111" stroke-width="0.8"/>
<circle cx="327.92" cy="116.50" r="1.80" fill="none" stroke="#1e88ff" stroke-width="1.4"/>
<circle cx="327.92" cy="119.80" r="1.80" fill="none" stroke="#1e88ff" stroke-width="1.4"/>
<circle cx="327.92" cy="123.40" r="1.80" fill="none" stroke="#1e88ff" stroke-width="1.4"/>
<polygon points="323.07,106.85 323.70,108.13 325.11,108.34 324.09,109.33 324.33,110.74 323.07,110.08 321.81,110.74 322.05,109.33 321.03,108.34 322.44,108.13" fill="#000"/>
<polygon points="327.92,106.85 328.55,108.13 329.96,108.34 328.94,109.33 329.18,110.74 327.92,110.08 326.66,110.74 326.90,109.33 325.88,108.34 327.29,108.13" fill="#000"/>
<polygon points="332.77,106.85 333.40,108.13 334.81,108.34 333.79,109.33 334.03,110.74 332.77,110.08 331.51,110.74 331.75,109.33 330.73,108.34 332.14,108.13" fill="#000"/>
<rect x="338.35" y="92.01" width="9.80" height="32.09" fill="#f9a35c" stroke="#111" stroke-width="0.9"/>
<rect x="338.75" y="121.21" width="9.00" height="2.89" fill="#78c456" stroke="#111" stroke-width="0.7"/>
<line x1="343.25" y1="87.20" x2="343.25" y2="96.83" stroke="#111" stroke-width="0.8"/>
<line x1="339.75" y1="87.20" x2="346.75" y2="87.20" stroke="#111" stroke-width="0.8"/>
<line x1="339.75" y1="96.83" x2="346.75" y2="96.83" stroke="#111" stroke-width="0.8"/>
<circle cx="343.25" cy="84.10" r="1.80" fill="none" stroke="#1e88ff" stroke-width="1.4"/>
<circle cx="343.25" cy="91.70" r="1.80" fill="none" stroke="#1e88ff" stroke-width="1.4"/>
<circle cx="343.25" cy="100.00" r="1.80" fill="none" stroke="#1e88ff" stroke-width="1.4"/>
<text x="343.25" y="79.20" font-size="7.9" text-anchor="middle" font-weight="normal" fill="#000">ns</text>
<text x="269.70" y="132.90" font-size="9.0" text-anchor="end" font-weight="normal" fill="#000" transform="rotate(-45 269.70 132.90)">Control</text>
<text x="285.03" y="132.90" font-size="9.0" text-anchor="end" font-weight="normal" fill="#000" transform="rotate(-45 285.03 132.90)">Buffer</text>
<text x="300.36" y="132.90" font-size="9.0" text-anchor="end" font-weight="normal" fill="#000" transform="rotate(-45 300.36 132.90)">Methoprene</text>
<text x="315.69" y="132.90" font-size="9.0" text-anchor="end" font-weight="normal" fill="#000" transform="rotate(-45 315.69 132.90)">20E</text>
<text x="331.02" y="132.90" font-size="9.0" text-anchor="end" font-weight="normal" fill="#000" transform="rotate(-45 331.02 132.90)">Combined</text>
<text x="346.35" y="132.90" font-size="9.0" text-anchor="end" font-weight="normal" fill="#000" transform="rotate(-45 346.35 132.90)">Inhibited</text>
<text x="219.40" y="188.60" font-size="13" text-anchor="start" font-weight="bold" fill="#000">e</text>
<rect x="251.40" y="191.10" width="106.80" height="112.20" fill="none" stroke="#888" stroke-width="0.7"/>
<line x1="249.20" y1="303.30" x2="251.40" y2="303.30" stroke="#666" stroke-width="0.6"/>
<text x="245.40" y="306.00" font-size="7.6" text-anchor="end" font-weight="normal" fill="#000">0</text>
<line x1="249.20" y1="287.40" x2="251.40" y2="287.40" stroke="#666" stroke-width="0.6"/>
<text x="245.40" y="290.10" font-size="7.6" text-anchor="end" font-weight="normal" fill="#000">20</text>
<line x1="249.20" y1="271.50" x2="251.40" y2="271.50" stroke="#666" stroke-width="0.6"/>
<text x="245.40" y="274.20" font-size="7.6" text-anchor="end" font-weight="normal" fill="#000">40</text>
<line x1="249.20" y1="255.60" x2="251.40" y2="255.60" stroke="#666" stroke-width="0.6"/>
<text x="245.40" y="258.30" font-size="7.6" text-anchor="end" font-weight="normal" fill="#000">60</text>
<line x1="249.20" y1="239.70" x2="251.40" y2="239.70" stroke="#666" stroke-width="0.6"/>
<text x="245.40" y="242.40" font-size="7.6" text-anchor="end" font-weight="normal" fill="#000">80</text>
<line x1="249.20" y1="223.80" x2="251.40" y2="223.80" stroke="#666" stroke-width="0.6"/>
<text x="245.40" y="226.50" font-size="7.6" text-anchor="end" font-weight="normal" fill="#000">100</text>
<line x1="249.20" y1="207.90" x2="251.40" y2="207.90" stroke="#666" stroke-width="0.6"/>
<text x="245.40" y="210.60" font-size="7.6" text-anchor="end" font-weight="normal" fill="#000">120</text>
<line x1="249.20" y1="192.00" x2="251.40" y2="192.00" stroke="#666" stroke-width="0.6"/>
<text x="245.40" y="194.70" font-size="7.6" text-anchor="end" font-weight="normal" fill="#000">140</text>
<text x="226.80" y="247.50" font-size="8.8" text-anchor="middle" font-weight="normal" fill="#000" transform="rotate(-90 226.80 247.50)">Larval mortality (%)</text>
<rect x="254.30" y="195.30" width="57.50" height="21.50" fill="#fff" stroke="#999" stroke-width="0.6"/>
<rect x="257.50" y="200.50" width="15.50" height="4.00" fill="#f9a35c" stroke="#222" stroke-width="0.8" rx="0.4"/>
<rect x="257.50" y="208.00" width="15.50" height="4.00" fill="#78c456" stroke="#222" stroke-width="0.8" rx="0.4"/>
<text x="276.8" y="205.20" font-size="6.6" fill="#000">Cry1<tspan font-style="italic">Ac</tspan> (+)</text>
<text x="276.8" y="212.60" font-size="6.6" fill="#000">Cry1<tspan font-style="italic">Ac</tspan> (-)</text>
<rect x="261.70" y="288.12" width="9.80" height="15.18" fill="#f9a35c" stroke="#111" stroke-width="0.9"/>
<line x1="266.60" y1="286.13" x2="266.60" y2="290.10" stroke="#111" stroke-width="0.8"/>
<line x1="263.10" y1="286.13" x2="270.10" y2="286.13" stroke="#111" stroke-width="0.8"/>
<line x1="263.10" y1="290.10" x2="270.10" y2="290.10" stroke="#111" stroke-width="0.8"/>
<circle cx="262.30" cy="289.90" r="1.80" fill="none" stroke="#1e88ff" stroke-width="1.4"/>
<circle cx="266.70" cy="284.60" r="1.80" fill="none" stroke="#1e88ff" stroke-width="1.4"/>
<circle cx="271.10" cy="289.90" r="1.80" fill="none" stroke="#1e88ff" stroke-width="1.4"/>
<rect x="277.03" y="286.37" width="9.80" height="16.93" fill="#f9a35c" stroke="#111" stroke-width="0.9"/>
<line x1="281.93" y1="284.38" x2="281.93" y2="288.35" stroke="#111" stroke-width="0.8"/>
<line x1="278.43" y1="284.38" x2="285.43" y2="284.38" stroke="#111" stroke-width="0.8"/>
<line x1="278.43" y1="288.35" x2="285.43" y2="288.35" stroke="#111" stroke-width="0.8"/>
<circle cx="277.73" cy="289.90" r="1.80" fill="none" stroke="#1e88ff" stroke-width="1.4"/>
<circle cx="282.13" cy="282.00" r="1.80" fill="none" stroke="#1e88ff" stroke-width="1.4"/>
<circle cx="286.73" cy="287.30" r="1.80" fill="none" stroke="#1e88ff" stroke-width="1.4"/>
<text x="281.93" y="278.10" font-size="7.9" text-anchor="middle" font-weight="normal" fill="#000">ns</text>
<rect x="292.36" y="252.42" width="9.80" height="50.88" fill="#f9a35c" stroke="#111" stroke-width="0.9"/>
<rect x="292.76" y="301.15" width="9.00" height="2.15" fill="#78c456" stroke="#111" stroke-width="0.7"/>
<line x1="297.26" y1="247.81" x2="297.26" y2="257.03" stroke="#111" stroke-width="0.8"/>
<line x1="293.76" y1="247.81" x2="300.76" y2="247.81" stroke="#111" stroke-width="0.8"/>
<line x1="293.76" y1="257.03" x2="300.76" y2="257.03" stroke="#111" stroke-width="0.8"/>
<circle cx="297.26" cy="244.60" r="1.80" fill="none" stroke="#1e88ff" stroke-width="1.4"/>
<circle cx="297.26" cy="252.60" r="1.80" fill="none" stroke="#1e88ff" stroke-width="1.4"/>
<circle cx="297.26" cy="260.60" r="1.80" fill="none" stroke="#1e88ff" stroke-width="1.4"/>
<polygon points="292.41,235.85 293.04,237.13 294.45,237.34 293.43,238.33 293.67,239.74 292.41,239.07 291.15,239.74 291.39,238.33 290.37,237.34 291.78,237.13" fill="#000"/>
<polygon points="297.26,235.85 297.89,237.13 299.30,237.34 298.28,238.33 298.52,239.74 297.26,239.07 296.00,239.74 296.24,238.33 295.22,237.34 296.63,237.13" fill="#000"/>
<polygon points="302.11,235.85 302.74,237.13 304.15,237.34 303.13,238.33 303.37,239.74 302.11,239.07 300.85,239.74 301.09,238.33 300.07,237.34 301.48,237.13" fill="#000"/>
<rect x="307.69" y="229.60" width="9.80" height="73.70" fill="#f9a35c" stroke="#111" stroke-width="0.9"/>
<rect x="308.09" y="299.64" width="9.00" height="3.66" fill="#78c456" stroke="#111" stroke-width="0.7"/>
<line x1="312.59" y1="227.62" x2="312.59" y2="231.59" stroke="#111" stroke-width="0.8"/>
<line x1="309.09" y1="227.62" x2="316.09" y2="227.62" stroke="#111" stroke-width="0.8"/>
<line x1="309.09" y1="231.59" x2="316.09" y2="231.59" stroke="#111" stroke-width="0.8"/>
<circle cx="308.39" cy="226.00" r="1.80" fill="none" stroke="#1e88ff" stroke-width="1.4"/>
<circle cx="312.59" cy="233.90" r="1.80" fill="none" stroke="#1e88ff" stroke-width="1.4"/>
<circle cx="317.19" cy="228.20" r="1.80" fill="none" stroke="#1e88ff" stroke-width="1.4"/>
<polygon points="307.74,217.35 308.37,218.63 309.78,218.84 308.76,219.83 309.00,221.24 307.74,220.57 306.48,221.24 306.72,219.83 305.70,218.84 307.11,218.63" fill="#000"/>
<polygon points="312.59,217.35 313.22,218.63 314.63,218.84 313.61,219.83 313.85,221.24 312.59,220.57 311.33,221.24 311.57,219.83 310.55,218.84 311.96,218.63" fill="#000"/>
<polygon points="317.44,217.35 318.07,218.63 319.48,218.84 318.46,219.83 318.70,221.24 317.44,220.57 316.18,221.24 316.42,219.83 315.40,218.84 316.81,218.63" fill="#000"/>
<rect x="323.02" y="297.34" width="9.80" height="5.96" fill="#f9a35c" stroke="#111" stroke-width="0.9"/>
<rect x="323.42" y="300.76" width="9.00" height="2.54" fill="#78c456" stroke="#111" stroke-width="0.7"/>
<line x1="327.92" y1="294.95" x2="327.92" y2="299.72" stroke="#111" stroke-width="0.8"/>
<line x1="324.42" y1="294.95" x2="331.42" y2="294.95" stroke="#111" stroke-width="0.8"/>
<line x1="324.42" y1="299.72" x2="331.42" y2="299.72" stroke="#111" stroke-width="0.8"/>
<circle cx="323.62" cy="297.80" r="1.80" fill="none" stroke="#1e88ff" stroke-width="1.4"/>
<circle cx="327.92" cy="292.70" r="1.80" fill="none" stroke="#1e88ff" stroke-width="1.4"/>
<circle cx="332.42" cy="297.80" r="1.80" fill="none" stroke="#1e88ff" stroke-width="1.4"/>
<polygon points="325.50,283.95 326.13,285.23 327.54,285.44 326.52,286.43 326.76,287.84 325.50,287.18 324.23,287.84 324.47,286.43 323.45,285.44 324.86,285.23" fill="#000"/>
<polygon points="330.35,283.95 330.98,285.23 332.39,285.44 331.37,286.43 331.61,287.84 330.35,287.18 329.08,287.84 329.32,286.43 328.30,285.44 329.71,285.23" fill="#000"/>
<rect x="338.35" y="302.90" width="9.80" height="0.40" fill="#f9a35c" stroke="#111" stroke-width="0.9"/>
<circle cx="338.75" cy="303.40" r="1.80" fill="none" stroke="#1e88ff" stroke-width="1.4"/>
<circle cx="343.25" cy="301.50" r="1.80" fill="none" stroke="#1e88ff" stroke-width="1.4"/>
<circle cx="347.75" cy="303.40" r="1.80" fill="none" stroke="#1e88ff" stroke-width="1.4"/>
<polygon points="338.40,292.45 339.03,293.73 340.44,293.94 339.42,294.93 339.66,296.34 338.40,295.68 337.14,296.34 337.38,294.93 336.36,293.94 337.77,293.73" fill="#000"/>
<polygon points="343.25,292.45 343.88,293.73 345.29,293.94 344.27,294.93 344.51,296.34 343.25,295.68 341.99,296.34 342.23,294.93 341.21,293.94 342.62,293.73" fill="#000"/>
<polygon points="348.10,292.45 348.73,293.73 350.14,293.94 349.12,294.93 349.36,296.34 348.10,295.68 346.84,296.34 347.08,294.93 346.06,293.94 347.47,293.73" fill="#000"/>
<text x="269.70" y="312.10" font-size="9.0" text-anchor="end" font-weight="normal" fill="#000" transform="rotate(-45 269.70 312.10)">Control</text>
<text x="285.03" y="312.10" font-size="9.0" text-anchor="end" font-weight="normal" fill="#000" transform="rotate(-45 285.03 312.10)">Buffer</text>
<text x="300.36" y="312.10" font-size="9.0" text-anchor="end" font-weight="normal" fill="#000" transform="rotate(-45 300.36 312.10)">dsRNA</text>
<text x="315.69" y="312.10" font-size="9.0" text-anchor="end" font-weight="normal" fill="#000" transform="rotate(-45 315.69 312.10)">dsRNA+meth.</text>
<text x="331.02" y="312.10" font-size="9.0" text-anchor="end" font-weight="normal" fill="#000" transform="rotate(-45 331.02 312.10)">dsRNA+20E</text>
<text x="346.35" y="312.10" font-size="9.0" text-anchor="end" font-weight="normal" fill="#000" transform="rotate(-45 346.35 312.10)">dsRNA+comb.</text>
<defs><filter id="bl" x="-30%" y="-100%" width="160%" height="300%"><feGaussianBlur stdDeviation="0.6"/></filter></defs>
<text x="377.30" y="9.90" font-size="13.8" text-anchor="start" font-weight="bold" fill="#000">b</text>
<rect x="410.30" y="11.30" width="91.60" height="11.00" fill="#fbfbfb" stroke="#999" stroke-width="0.9"/>
<g filter="url(#bl)">
<rect x="412.00" y="16.29" width="12.0" height="2.01" rx="3" ry="1.01" fill="rgb(121,121,121)"/>
<rect x="427.30" y="16.16" width="12.0" height="2.29" rx="3" ry="1.14" fill="rgb(67,67,67)"/>
<rect x="442.60" y="16.43" width="12.0" height="1.74" rx="3" ry="0.87" fill="rgb(174,174,174)"/>
<rect x="457.90" y="15.95" width="12.0" height="2.70" rx="3" ry="1.35" fill="rgb(0,0,0)"/>
<rect x="473.20" y="16.05" width="12.0" height="2.49" rx="3" ry="1.25" fill="rgb(27,27,27)"/>
<rect x="488.50" y="16.16" width="12.0" height="2.29" rx="3" ry="1.14" fill="rgb(67,67,67)"/>
</g>
<text x="408.30" y="19.50" font-size="7.4" text-anchor="end" font-weight="normal" fill="#000">p38</text>
<text x="504.50" y="19.50" font-size="7.4" text-anchor="start" font-weight="normal" fill="#000">41 kDa</text>
<rect x="410.30" y="26.60" width="91.60" height="10.80" fill="#fbfbfb" stroke="#999" stroke-width="0.9"/>
<g filter="url(#bl)">
<rect x="412.00" y="30.90" width="12.0" height="3.40" rx="3" ry="1.70" fill="rgb(0,0,0)"/>
<rect x="427.30" y="30.90" width="12.0" height="3.40" rx="3" ry="1.70" fill="rgb(0,0,0)"/>
<rect x="442.60" y="30.90" width="12.0" height="3.40" rx="3" ry="1.70" fill="rgb(0,0,0)"/>
<rect x="457.90" y="30.90" width="12.0" height="3.40" rx="3" ry="1.70" fill="rgb(0,0,0)"/>
<rect x="473.20" y="30.90" width="12.0" height="3.40" rx="3" ry="1.70" fill="rgb(0,0,0)"/>
<rect x="488.50" y="30.90" width="12.0" height="3.40" rx="3" ry="1.70" fill="rgb(0,0,0)"/>
</g>
<text x="408.30" y="34.70" font-size="7.4" text-anchor="end" font-weight="normal" fill="#000">β-Actin</text>
<text x="504.50" y="34.70" font-size="7.4" text-anchor="start" font-weight="normal" fill="#000">42 kDa</text>
<rect x="567.40" y="11.30" width="91.60" height="11.00" fill="#fbfbfb" stroke="#999" stroke-width="0.9"/>
<g filter="url(#bl)">
<rect x="569.10" y="16.57" width="12.0" height="1.46" rx="3" ry="0.73" fill="rgb(228,228,228)"/>
<rect x="584.40" y="16.55" width="12.0" height="1.49" rx="3" ry="0.74" fill="rgb(222,222,222)"/>
<rect x="599.70" y="16.61" width="12.0" height="1.38" rx="3" ry="0.69" fill="rgb(244,244,244)"/>
<rect x="615.00" y="16.02" width="12.0" height="2.56" rx="3" ry="1.28" fill="rgb(14,14,14)"/>
<rect x="630.30" y="16.12" width="12.0" height="2.36" rx="3" ry="1.18" fill="rgb(54,54,54)"/>
<rect x="645.60" y="16.53" width="12.0" height="1.53" rx="3" ry="0.77" fill="rgb(214,214,214)"/>
</g>
<text x="565.40" y="19.50" font-size="7.4" text-anchor="end" font-weight="normal" fill="#000">p-p38</text>
<text x="661.60" y="19.50" font-size="7.4" text-anchor="start" font-weight="normal" fill="#000">41 kDa</text>
<rect x="567.40" y="26.60" width="91.60" height="10.80" fill="#fbfbfb" stroke="#999" stroke-width="0.9"/>
<g filter="url(#bl)">
<rect x="569.10" y="30.90" width="12.0" height="3.40" rx="3" ry="1.70" fill="rgb(0,0,0)"/>
<rect x="584.40" y="30.90" width="12.0" height="3.40" rx="3" ry="1.70" fill="rgb(0,0,0)"/>
<rect x="599.70" y="30.90" width="12.0" height="3.40" rx="3" ry="1.70" fill="rgb(0,0,0)"/>
<rect x="615.00" y="30.90" width="12.0" height="3.40" rx="3" ry="1.70" fill="rgb(0,0,0)"/>
<rect x="630.30" y="30.90" width="12.0" height="3.40" rx="3" ry="1.70" fill="rgb(0,0,0)"/>
<rect x="645.60" y="30.90" width="12.0" height="3.40" rx="3" ry="1.70" fill="rgb(0,0,0)"/>
</g>
<text x="565.40" y="34.70" font-size="7.4" text-anchor="end" font-weight="normal" fill="#000">β-Actin</text>
<text x="661.60" y="34.70" font-size="7.4" text-anchor="start" font-weight="normal" fill="#000">42 kDa</text>
<line x1="406.50" y1="49.60" x2="406.50" y2="123.90" stroke="#999" stroke-width="0.9"/>
<line x1="406.50" y1="123.90" x2="509.50" y2="123.90" stroke="#999" stroke-width="0.9"/>
<line x1="404.30" y1="123.90" x2="406.50" y2="123.90" stroke="#999" stroke-width="0.8"/>
<text x="400.70" y="126.80" font-size="8.0" text-anchor="end" font-weight="normal" fill="#000">0.0</text>
<line x1="404.30" y1="113.29" x2="406.50" y2="113.29" stroke="#999" stroke-width="0.8"/>
<text x="400.70" y="116.19" font-size="8.0" text-anchor="end" font-weight="normal" fill="#000">0.5</text>
<line x1="404.30" y1="102.67" x2="406.50" y2="102.67" stroke="#999" stroke-width="0.8"/>
<text x="400.70" y="105.57" font-size="8.0" text-anchor="end" font-weight="normal" fill="#000">1.0</text>
<line x1="404.30" y1="92.06" x2="406.50" y2="92.06" stroke="#999" stroke-width="0.8"/>
<text x="400.70" y="94.96" font-size="8.0" text-anchor="end" font-weight="normal" fill="#000">1.5</text>
<line x1="404.30" y1="81.44" x2="406.50" y2="81.44" stroke="#999" stroke-width="0.8"/>
<text x="400.70" y="84.34" font-size="8.0" text-anchor="end" font-weight="normal" fill="#000">2.0</text>
<line x1="404.30" y1="70.83" x2="406.50" y2="70.83" stroke="#999" stroke-width="0.8"/>
<text x="400.70" y="73.73" font-size="8.0" text-anchor="end" font-weight="normal" fill="#000">2.5</text>
<line x1="404.30" y1="60.21" x2="406.50" y2="60.21" stroke="#999" stroke-width="0.8"/>
<text x="400.70" y="63.11" font-size="8.0" text-anchor="end" font-weight="normal" fill="#000">3.0</text>
<line x1="404.30" y1="49.60" x2="406.50" y2="49.60" stroke="#999" stroke-width="0.8"/>
<text x="400.70" y="52.50" font-size="8.0" text-anchor="end" font-weight="normal" fill="#000">3.5</text>
<text x="384.80" y="86.75" font-size="8.55" text-anchor="middle" font-weight="normal" fill="#000" transform="rotate(-90 384.80 86.75)">Relative band intensity</text>
<line x1="418.80" y1="123.90" x2="418.80" y2="126.90" stroke="#999" stroke-width="0.8"/>
<rect x="413.30" y="103.52" width="11.00" height="20.38" fill="#1a7ff0" stroke="#111" stroke-width="0.9"/>
<line x1="418.80" y1="102.88" x2="418.80" y2="104.16" stroke="#111" stroke-width="0.8"/>
<line x1="415.80" y1="102.88" x2="421.80" y2="102.88" stroke="#111" stroke-width="0.8"/>
<line x1="415.80" y1="104.16" x2="421.80" y2="104.16" stroke="#111" stroke-width="0.8"/>
<circle cx="414.90" cy="103.52" r="2.00" fill="none" stroke="#f08a1e" stroke-width="1.2"/>
<circle cx="418.80" cy="101.40" r="2.00" fill="none" stroke="#f08a1e" stroke-width="1.2"/>
<circle cx="422.70" cy="103.31" r="2.00" fill="none" stroke="#f08a1e" stroke-width="1.2"/>
<line x1="434.40" y1="123.90" x2="434.40" y2="126.90" stroke="#999" stroke-width="0.8"/>
<rect x="428.90" y="98.43" width="11.00" height="25.47" fill="#1a7ff0" stroke="#111" stroke-width="0.9"/>
<line x1="434.40" y1="97.36" x2="434.40" y2="99.49" stroke="#111" stroke-width="0.8"/>
<line x1="431.40" y1="97.36" x2="437.40" y2="97.36" stroke="#111" stroke-width="0.8"/>
<line x1="431.40" y1="99.49" x2="437.40" y2="99.49" stroke="#111" stroke-width="0.8"/>
<circle cx="430.10" cy="98.64" r="2.00" fill="none" stroke="#f08a1e" stroke-width="1.2"/>
<circle cx="434.40" cy="95.88" r="2.00" fill="none" stroke="#f08a1e" stroke-width="1.2"/>
<circle cx="438.60" cy="97.58" r="2.00" fill="none" stroke="#f08a1e" stroke-width="1.2"/>
<text x="434.40" y="92.13" font-size="7.9" text-anchor="middle" font-weight="normal" fill="#000">ns</text>
<line x1="450.00" y1="123.90" x2="450.00" y2="126.90" stroke="#999" stroke-width="0.8"/>
<rect x="444.50" y="112.86" width="11.00" height="11.04" fill="#1a7ff0" stroke="#111" stroke-width="0.9"/>
<line x1="450.00" y1="111.80" x2="450.00" y2="113.92" stroke="#111" stroke-width="0.8"/>
<line x1="447.00" y1="111.80" x2="453.00" y2="111.80" stroke="#111" stroke-width="0.8"/>
<line x1="447.00" y1="113.92" x2="453.00" y2="113.92" stroke="#111" stroke-width="0.8"/>
<circle cx="445.70" cy="113.50" r="2.00" fill="none" stroke="#f08a1e" stroke-width="1.2"/>
<circle cx="449.90" cy="110.31" r="2.00" fill="none" stroke="#f08a1e" stroke-width="1.2"/>
<circle cx="454.20" cy="111.80" r="2.00" fill="none" stroke="#f08a1e" stroke-width="1.2"/>
<polygon points="450.00,102.17 450.65,103.48 452.09,103.69 451.05,104.71 451.29,106.15 450.00,105.47 448.71,106.15 448.95,104.71 447.91,103.69 449.35,103.48" fill="#000"/>
<line x1="465.60" y1="123.90" x2="465.60" y2="126.90" stroke="#999" stroke-width="0.8"/>
<rect x="460.10" y="60.21" width="11.00" height="63.69" fill="#1a7ff0" stroke="#111" stroke-width="0.9"/>
<line x1="465.60" y1="57.67" x2="465.60" y2="62.76" stroke="#111" stroke-width="0.8"/>
<line x1="462.60" y1="57.67" x2="468.60" y2="57.67" stroke="#111" stroke-width="0.8"/>
<line x1="462.60" y1="62.76" x2="468.60" y2="62.76" stroke="#111" stroke-width="0.8"/>
<circle cx="465.60" cy="54.91" r="2.00" fill="none" stroke="#f08a1e" stroke-width="1.2"/>
<circle cx="465.60" cy="61.28" r="2.00" fill="none" stroke="#f08a1e" stroke-width="1.2"/>
<circle cx="465.60" cy="65.52" r="2.00" fill="none" stroke="#f08a1e" stroke-width="1.2"/>
<polygon points="460.35,46.34 461.00,47.65 462.44,47.86 461.40,48.88 461.64,50.32 460.35,49.64 459.06,50.32 459.30,48.88 458.26,47.86 459.70,47.65" fill="#000"/>
<polygon points="465.60,46.34 466.25,47.65 467.69,47.86 466.65,48.88 466.89,50.32 465.60,49.64 464.31,50.32 464.55,48.88 463.51,47.86 464.95,47.65" fill="#000"/>
<polygon points="470.85,46.34 471.50,47.65 472.94,47.86 471.90,48.88 472.14,50.32 470.85,49.64 469.56,50.32 469.80,48.88 468.76,47.86 470.20,47.65" fill="#000"/>
<line x1="481.20" y1="123.90" x2="481.20" y2="126.90" stroke="#999" stroke-width="0.8"/>
<rect x="475.70" y="81.44" width="11.00" height="42.46" fill="#1a7ff0" stroke="#111" stroke-width="0.9"/>
<line x1="481.20" y1="79.74" x2="481.20" y2="83.14" stroke="#111" stroke-width="0.8"/>
<line x1="478.20" y1="79.74" x2="484.20" y2="79.74" stroke="#111" stroke-width="0.8"/>
<line x1="478.20" y1="83.14" x2="484.20" y2="83.14" stroke="#111" stroke-width="0.8"/>
<circle cx="476.70" cy="78.26" r="2.00" fill="none" stroke="#f08a1e" stroke-width="1.2"/>
<circle cx="476.70" cy="84.41" r="2.00" fill="none" stroke="#f08a1e" stroke-width="1.2"/>
<circle cx="484.90" cy="81.44" r="2.00" fill="none" stroke="#f08a1e" stroke-width="1.2"/>
<polygon points="478.57,70.75 479.22,72.06 480.67,72.27 479.62,73.29 479.87,74.73 478.57,74.05 477.28,74.73 477.53,73.29 476.48,72.27 477.93,72.06" fill="#000"/>
<polygon points="483.82,70.75 484.47,72.06 485.92,72.27 484.87,73.29 485.12,74.73 483.82,74.05 482.53,74.73 482.78,73.29 481.73,72.27 483.18,72.06" fill="#000"/>
<line x1="496.80" y1="123.90" x2="496.80" y2="126.90" stroke="#999" stroke-width="0.8"/>
<rect x="491.30" y="89.93" width="11.00" height="33.97" fill="#1a7ff0" stroke="#111" stroke-width="0.9"/>
<line x1="496.80" y1="89.09" x2="496.80" y2="90.78" stroke="#111" stroke-width="0.8"/>
<line x1="493.80" y1="89.09" x2="499.80" y2="89.09" stroke="#111" stroke-width="0.8"/>
<line x1="493.80" y1="90.78" x2="499.80" y2="90.78" stroke="#111" stroke-width="0.8"/>
<circle cx="492.50" cy="91.42" r="2.00" fill="none" stroke="#f08a1e" stroke-width="1.2"/>
<circle cx="496.40" cy="88.45" r="2.00" fill="none" stroke="#f08a1e" stroke-width="1.2"/>
<circle cx="500.60" cy="89.30" r="2.00" fill="none" stroke="#f08a1e" stroke-width="1.2"/>
<polygon points="494.18,79.88 494.82,81.19 496.27,81.40 495.22,82.42 495.47,83.86 494.18,83.18 492.88,83.86 493.13,82.42 492.08,81.40 493.53,81.19" fill="#000"/>
<polygon points="499.43,79.88 500.07,81.19 501.52,81.40 500.47,82.42 500.72,83.86 499.43,83.18 498.13,83.86 498.38,82.42 497.33,81.40 498.78,81.19" fill="#000"/>
<text x="423.10" y="134.90" font-size="8.7" text-anchor="end" font-weight="normal" fill="#000" transform="rotate(-45 423.10 134.90)">Control</text>
<text x="438.70" y="134.90" font-size="8.7" text-anchor="end" font-weight="normal" fill="#000" transform="rotate(-45 438.70 134.90)">Buffer</text>
<text x="454.30" y="134.90" font-size="8.7" text-anchor="end" font-weight="normal" fill="#000" transform="rotate(-45 454.30 134.90)">Methoprene</text>
<text x="469.90" y="134.90" font-size="8.7" text-anchor="end" font-weight="normal" fill="#000" transform="rotate(-45 469.90 134.90)">20E</text>
<text x="485.50" y="134.90" font-size="8.7" text-anchor="end" font-weight="normal" fill="#000" transform="rotate(-45 485.50 134.90)">Combined</text>
<text x="501.10" y="134.90" font-size="8.7" text-anchor="end" font-weight="normal" fill="#000" transform="rotate(-45 501.10 134.90)">Inhibited</text>
<line x1="562.50" y1="49.60" x2="562.50" y2="123.90" stroke="#999" stroke-width="0.9"/>
<line x1="562.50" y1="123.90" x2="665.50" y2="123.90" stroke="#999" stroke-width="0.9"/>
<line x1="560.30" y1="123.90" x2="562.50" y2="123.90" stroke="#999" stroke-width="0.8"/>
<text x="556.70" y="126.80" font-size="8.0" text-anchor="end" font-weight="normal" fill="#000">0</text>
<line x1="560.30" y1="114.61" x2="562.50" y2="114.61" stroke="#999" stroke-width="0.8"/>
<text x="556.70" y="117.51" font-size="8.0" text-anchor="end" font-weight="normal" fill="#000">2</text>
<line x1="560.30" y1="105.33" x2="562.50" y2="105.33" stroke="#999" stroke-width="0.8"/>
<text x="556.70" y="108.23" font-size="8.0" text-anchor="end" font-weight="normal" fill="#000">4</text>
<line x1="560.30" y1="96.04" x2="562.50" y2="96.04" stroke="#999" stroke-width="0.8"/>
<text x="556.70" y="98.94" font-size="8.0" text-anchor="end" font-weight="normal" fill="#000">6</text>
<line x1="560.30" y1="86.75" x2="562.50" y2="86.75" stroke="#999" stroke-width="0.8"/>
<text x="556.70" y="89.65" font-size="8.0" text-anchor="end" font-weight="normal" fill="#000">8</text>
<line x1="560.30" y1="77.46" x2="562.50" y2="77.46" stroke="#999" stroke-width="0.8"/>
<text x="556.70" y="80.36" font-size="8.0" text-anchor="end" font-weight="normal" fill="#000">10</text>
<line x1="560.30" y1="68.18" x2="562.50" y2="68.18" stroke="#999" stroke-width="0.8"/>
<text x="556.70" y="71.08" font-size="8.0" text-anchor="end" font-weight="normal" fill="#000">12</text>
<line x1="560.30" y1="58.89" x2="562.50" y2="58.89" stroke="#999" stroke-width="0.8"/>
<text x="556.70" y="61.79" font-size="8.0" text-anchor="end" font-weight="normal" fill="#000">14</text>
<line x1="560.30" y1="49.60" x2="562.50" y2="49.60" stroke="#999" stroke-width="0.8"/>
<text x="556.70" y="52.50" font-size="8.0" text-anchor="end" font-weight="normal" fill="#000">16</text>
<text x="542.90" y="86.75" font-size="8.55" text-anchor="middle" font-weight="normal" fill="#000" transform="rotate(-90 542.90 86.75)">Relative band intensity</text>
<line x1="574.00" y1="123.90" x2="574.00" y2="126.90" stroke="#999" stroke-width="0.8"/>
<rect x="568.50" y="119.72" width="11.00" height="4.18" fill="#1a7ff0" stroke="#111" stroke-width="0.9"/>
<line x1="574.00" y1="119.26" x2="574.00" y2="120.19" stroke="#111" stroke-width="0.8"/>
<line x1="571.00" y1="119.26" x2="577.00" y2="119.26" stroke="#111" stroke-width="0.8"/>
<line x1="571.00" y1="120.19" x2="577.00" y2="120.19" stroke="#111" stroke-width="0.8"/>
<circle cx="570.00" cy="120.19" r="2.00" fill="none" stroke="#f08a1e" stroke-width="1.2"/>
<circle cx="574.00" cy="119.26" r="2.00" fill="none" stroke="#f08a1e" stroke-width="1.2"/>
<circle cx="578.00" cy="119.72" r="2.00" fill="none" stroke="#f08a1e" stroke-width="1.2"/>
<line x1="589.66" y1="123.90" x2="589.66" y2="126.90" stroke="#999" stroke-width="0.8"/>
<rect x="584.16" y="119.72" width="11.00" height="4.18" fill="#1a7ff0" stroke="#111" stroke-width="0.9"/>
<line x1="589.66" y1="119.26" x2="589.66" y2="120.19" stroke="#111" stroke-width="0.8"/>
<line x1="586.66" y1="119.26" x2="592.66" y2="119.26" stroke="#111" stroke-width="0.8"/>
<line x1="586.66" y1="120.19" x2="592.66" y2="120.19" stroke="#111" stroke-width="0.8"/>
<circle cx="585.66" cy="120.19" r="2.00" fill="none" stroke="#f08a1e" stroke-width="1.2"/>
<circle cx="589.66" cy="118.79" r="2.00" fill="none" stroke="#f08a1e" stroke-width="1.2"/>
<circle cx="593.66" cy="119.72" r="2.00" fill="none" stroke="#f08a1e" stroke-width="1.2"/>
<text x="589.66" y="114.96" font-size="7.9" text-anchor="middle" font-weight="normal" fill="#000">ns</text>
<line x1="605.32" y1="123.90" x2="605.32" y2="126.90" stroke="#999" stroke-width="0.8"/>
<rect x="599.82" y="122.97" width="11.00" height="0.93" fill="#1a7ff0" stroke="#111" stroke-width="0.9"/>
<line x1="605.32" y1="122.74" x2="605.32" y2="123.20" stroke="#111" stroke-width="0.8"/>
<line x1="602.32" y1="122.74" x2="608.32" y2="122.74" stroke="#111" stroke-width="0.8"/>
<line x1="602.32" y1="123.20" x2="608.32" y2="123.20" stroke="#111" stroke-width="0.8"/>
<circle cx="601.32" cy="122.97" r="2.00" fill="none" stroke="#f08a1e" stroke-width="1.2"/>
<circle cx="605.32" cy="122.97" r="2.00" fill="none" stroke="#f08a1e" stroke-width="1.2"/>
<circle cx="609.32" cy="122.97" r="2.00" fill="none" stroke="#f08a1e" stroke-width="1.2"/>
<polygon points="602.70,114.73 603.34,116.04 604.79,116.25 603.74,117.27 603.99,118.71 602.70,118.03 601.40,118.71 601.65,117.27 600.60,116.25 602.05,116.04" fill="#000"/>
<polygon points="607.95,114.73 608.59,116.04 610.04,116.25 608.99,117.27 609.24,118.71 607.95,118.03 606.65,118.71 606.90,117.27 605.85,116.25 607.30,116.04" fill="#000"/>
<line x1="620.98" y1="123.90" x2="620.98" y2="126.90" stroke="#999" stroke-width="0.8"/>
<rect x="615.48" y="62.32" width="11.00" height="61.58" fill="#1a7ff0" stroke="#111" stroke-width="0.9"/>
<line x1="620.98" y1="57.91" x2="620.98" y2="66.74" stroke="#111" stroke-width="0.8"/>
<line x1="617.98" y1="57.91" x2="623.98" y2="57.91" stroke="#111" stroke-width="0.8"/>
<line x1="617.98" y1="66.74" x2="623.98" y2="66.74" stroke="#111" stroke-width="0.8"/>
<circle cx="620.98" cy="54.38" r="2.00" fill="none" stroke="#f08a1e" stroke-width="1.2"/>
<circle cx="620.98" cy="60.42" r="2.00" fill="none" stroke="#f08a1e" stroke-width="1.2"/>
<circle cx="620.98" cy="70.22" r="2.00" fill="none" stroke="#f08a1e" stroke-width="1.2"/>
<polygon points="615.73,46.94 616.38,48.25 617.82,48.46 616.78,49.48 617.02,50.92 615.73,50.24 614.44,50.92 614.68,49.48 613.64,48.46 615.08,48.25" fill="#000"/>
<polygon points="620.98,46.94 621.63,48.25 623.07,48.46 622.03,49.48 622.27,50.92 620.98,50.24 619.69,50.92 619.93,49.48 618.89,48.46 620.33,48.25" fill="#000"/>
<polygon points="626.23,46.94 626.88,48.25 628.32,48.46 627.28,49.48 627.52,50.92 626.23,50.24 624.94,50.92 625.18,49.48 624.14,48.46 625.58,48.25" fill="#000"/>
<line x1="636.64" y1="123.90" x2="636.64" y2="126.90" stroke="#999" stroke-width="0.8"/>
<rect x="631.14" y="79.78" width="11.00" height="44.12" fill="#1a7ff0" stroke="#111" stroke-width="0.9"/>
<line x1="636.64" y1="78.39" x2="636.64" y2="81.18" stroke="#111" stroke-width="0.8"/>
<line x1="633.64" y1="78.39" x2="639.64" y2="78.39" stroke="#111" stroke-width="0.8"/>
<line x1="633.64" y1="81.18" x2="639.64" y2="81.18" stroke="#111" stroke-width="0.8"/>
<circle cx="632.64" cy="78.39" r="2.00" fill="none" stroke="#f08a1e" stroke-width="1.2"/>
<circle cx="636.64" cy="82.34" r="2.00" fill="none" stroke="#f08a1e" stroke-width="1.2"/>
<circle cx="640.64" cy="78.39" r="2.00" fill="none" stroke="#f08a1e" stroke-width="1.2"/>
<polygon points="631.39,70.62 632.04,71.93 633.48,72.14 632.44,73.16 632.68,74.60 631.39,73.92 630.10,74.60 630.34,73.16 629.30,72.14 630.74,71.93" fill="#000"/>
<polygon points="636.64,70.62 637.29,71.93 638.73,72.14 637.69,73.16 637.93,74.60 636.64,73.92 635.35,74.60 635.59,73.16 634.55,72.14 635.99,71.93" fill="#000"/>
<polygon points="641.89,70.62 642.54,71.93 643.98,72.14 642.94,73.16 643.18,74.60 641.89,73.92 640.60,74.60 640.84,73.16 639.80,72.14 641.24,71.93" fill="#000"/>
<line x1="652.30" y1="123.90" x2="652.30" y2="126.90" stroke="#999" stroke-width="0.8"/>
<rect x="646.80" y="117.86" width="11.00" height="6.04" fill="#1a7ff0" stroke="#111" stroke-width="0.9"/>
<line x1="652.30" y1="117.17" x2="652.30" y2="118.56" stroke="#111" stroke-width="0.8"/>
<line x1="649.30" y1="117.17" x2="655.30" y2="117.17" stroke="#111" stroke-width="0.8"/>
<line x1="649.30" y1="118.56" x2="655.30" y2="118.56" stroke="#111" stroke-width="0.8"/>
<circle cx="648.30" cy="118.79" r="2.00" fill="none" stroke="#f08a1e" stroke-width="1.2"/>
<circle cx="652.30" cy="117.40" r="2.00" fill="none" stroke="#f08a1e" stroke-width="1.2"/>
<circle cx="656.30" cy="117.86" r="2.00" fill="none" stroke="#f08a1e" stroke-width="1.2"/>
<text x="652.30" y="114.96" font-size="7.9" text-anchor="middle" font-weight="normal" fill="#000">ns</text>
<text x="578.30" y="134.90" font-size="8.7" text-anchor="end" font-weight="normal" fill="#000" transform="rotate(-45 578.30 134.90)">Control</text>
<text x="593.96" y="134.90" font-size="8.7" text-anchor="end" font-weight="normal" fill="#000" transform="rotate(-45 593.96 134.90)">Buffer</text>
<text x="609.62" y="134.90" font-size="8.7" text-anchor="end" font-weight="normal" fill="#000" transform="rotate(-45 609.62 134.90)">Methoprene</text>
<text x="625.28" y="134.90" font-size="8.7" text-anchor="end" font-weight="normal" fill="#000" transform="rotate(-45 625.28 134.90)">20E</text>
<text x="640.94" y="134.90" font-size="8.7" text-anchor="end" font-weight="normal" fill="#000" transform="rotate(-45 640.94 134.90)">Combined</text>
<text x="656.60" y="134.90" font-size="8.7" text-anchor="end" font-weight="normal" fill="#000" transform="rotate(-45 656.60 134.90)">Inhibited</text>
<rect x="410.30" y="191.30" width="91.60" height="10.30" fill="#fbfbfb" stroke="#999" stroke-width="0.9"/>
<g filter="url(#bl)">
<rect x="412.00" y="196.40" width="12.0" height="1.80" rx="3" ry="0.90" fill="rgb(134,134,134)"/>
<rect x="427.30" y="196.33" width="12.0" height="1.93" rx="3" ry="0.97" fill="rgb(107,107,107)"/>
<rect x="442.60" y="196.54" width="12.0" height="1.51" rx="3" ry="0.76" fill="rgb(196,196,196)"/>
<rect x="457.90" y="196.08" width="12.0" height="2.44" rx="3" ry="1.22" fill="rgb(0,0,0)"/>
<rect x="473.20" y="196.18" width="12.0" height="2.25" rx="3" ry="1.12" fill="rgb(40,40,40)"/>
<rect x="488.50" y="196.27" width="12.0" height="2.06" rx="3" ry="1.03" fill="rgb(80,80,80)"/>
</g>
<text x="408.30" y="199.15" font-size="7.4" text-anchor="end" font-weight="normal" fill="#000">ERK</text>
<text x="504.50" y="199.15" font-size="7.4" text-anchor="start" font-weight="normal" fill="#000">41 kDa</text>
<rect x="410.30" y="206.40" width="91.60" height="10.20" fill="#fbfbfb" stroke="#999" stroke-width="0.9"/>
<g filter="url(#bl)">
<rect x="412.00" y="210.70" width="12.0" height="3.40" rx="3" ry="1.70" fill="rgb(0,0,0)"/>
<rect x="427.30" y="210.70" width="12.0" height="3.40" rx="3" ry="1.70" fill="rgb(0,0,0)"/>
<rect x="442.60" y="210.70" width="12.0" height="3.40" rx="3" ry="1.70" fill="rgb(0,0,0)"/>
<rect x="457.90" y="210.70" width="12.0" height="3.40" rx="3" ry="1.70" fill="rgb(0,0,0)"/>
<rect x="473.20" y="210.70" width="12.0" height="3.40" rx="3" ry="1.70" fill="rgb(0,0,0)"/>
<rect x="488.50" y="210.70" width="12.0" height="3.40" rx="3" ry="1.70" fill="rgb(0,0,0)"/>
</g>
<text x="408.30" y="214.20" font-size="7.4" text-anchor="end" font-weight="normal" fill="#000">β-Actin</text>
<text x="504.50" y="214.20" font-size="7.4" text-anchor="start" font-weight="normal" fill="#000">42 kDa</text>
<rect x="567.40" y="191.30" width="91.60" height="10.30" fill="#fbfbfb" stroke="#999" stroke-width="0.9"/>
<g filter="url(#bl)">
<rect x="569.10" y="196.56" width="12.0" height="1.49" rx="3" ry="0.74" fill="rgb(222,222,222)"/>
<rect x="584.40" y="196.49" width="12.0" height="1.63" rx="3" ry="0.81" fill="rgb(196,196,196)"/>
<rect x="599.70" y="196.60" width="12.0" height="1.41" rx="3" ry="0.70" fill="rgb(238,238,238)"/>
<rect x="615.00" y="195.95" width="12.0" height="2.70" rx="3" ry="1.35" fill="rgb(0,0,0)"/>
<rect x="630.30" y="196.05" width="12.0" height="2.49" rx="3" ry="1.25" fill="rgb(27,27,27)"/>
<rect x="645.60" y="196.47" width="12.0" height="1.67" rx="3" ry="0.83" fill="rgb(188,188,188)"/>
</g>
<text x="565.40" y="199.15" font-size="7.4" text-anchor="end" font-weight="normal" fill="#000">p-ERK</text>
<text x="661.60" y="199.15" font-size="7.4" text-anchor="start" font-weight="normal" fill="#000">41 kDa</text>
<rect x="567.40" y="206.40" width="91.60" height="10.20" fill="#fbfbfb" stroke="#999" stroke-width="0.9"/>
<g filter="url(#bl)">
<rect x="569.10" y="210.70" width="12.0" height="3.40" rx="3" ry="1.70" fill="rgb(0,0,0)"/>
<rect x="584.40" y="210.70" width="12.0" height="3.40" rx="3" ry="1.70" fill="rgb(0,0,0)"/>
<rect x="599.70" y="210.70" width="12.0" height="3.40" rx="3" ry="1.70" fill="rgb(0,0,0)"/>
<rect x="615.00" y="210.70" width="12.0" height="3.40" rx="3" ry="1.70" fill="rgb(0,0,0)"/>
<rect x="630.30" y="210.70" width="12.0" height="3.40" rx="3" ry="1.70" fill="rgb(0,0,0)"/>
<rect x="645.60" y="210.70" width="12.0" height="3.40" rx="3" ry="1.70" fill="rgb(0,0,0)"/>
</g>
<text x="565.40" y="214.20" font-size="7.4" text-anchor="end" font-weight="normal" fill="#000">β-Actin</text>
<text x="661.60" y="214.20" font-size="7.4" text-anchor="start" font-weight="normal" fill="#000">42 kDa</text>
<line x1="406.50" y1="229.00" x2="406.50" y2="303.30" stroke="#999" stroke-width="0.9"/>
<line x1="406.50" y1="303.30" x2="509.50" y2="303.30" stroke="#999" stroke-width="0.9"/>
<line x1="404.30" y1="303.30" x2="406.50" y2="303.30" stroke="#999" stroke-width="0.8"/>
<text x="400.70" y="306.20" font-size="8.0" text-anchor="end" font-weight="normal" fill="#000">0.0</text>
<line x1="404.30" y1="292.69" x2="406.50" y2="292.69" stroke="#999" stroke-width="0.8"/>
<text x="400.70" y="295.59" font-size="8.0" text-anchor="end" font-weight="normal" fill="#000">0.5</text>
<line x1="404.30" y1="282.07" x2="406.50" y2="282.07" stroke="#999" stroke-width="0.8"/>
<text x="400.70" y="284.97" font-size="8.0" text-anchor="end" font-weight="normal" fill="#000">1.0</text>
<line x1="404.30" y1="271.46" x2="406.50" y2="271.46" stroke="#999" stroke-width="0.8"/>
<text x="400.70" y="274.36" font-size="8.0" text-anchor="end" font-weight="normal" fill="#000">1.5</text>
<line x1="404.30" y1="260.84" x2="406.50" y2="260.84" stroke="#999" stroke-width="0.8"/>
<text x="400.70" y="263.74" font-size="8.0" text-anchor="end" font-weight="normal" fill="#000">2.0</text>
<line x1="404.30" y1="250.23" x2="406.50" y2="250.23" stroke="#999" stroke-width="0.8"/>
<text x="400.70" y="253.13" font-size="8.0" text-anchor="end" font-weight="normal" fill="#000">2.5</text>
<line x1="404.30" y1="239.61" x2="406.50" y2="239.61" stroke="#999" stroke-width="0.8"/>
<text x="400.70" y="242.51" font-size="8.0" text-anchor="end" font-weight="normal" fill="#000">3.0</text>
<line x1="404.30" y1="229.00" x2="406.50" y2="229.00" stroke="#999" stroke-width="0.8"/>
<text x="400.70" y="231.90" font-size="8.0" text-anchor="end" font-weight="normal" fill="#000">3.5</text>
<text x="384.80" y="266.15" font-size="8.55" text-anchor="middle" font-weight="normal" fill="#000" transform="rotate(-90 384.80 266.15)">Relative band intensity</text>
<line x1="418.80" y1="303.30" x2="418.80" y2="306.30" stroke="#999" stroke-width="0.8"/>
<rect x="413.30" y="282.07" width="11.00" height="21.23" fill="#1a7ff0" stroke="#111" stroke-width="0.9"/>
<line x1="418.80" y1="281.65" x2="418.80" y2="282.50" stroke="#111" stroke-width="0.8"/>
<line x1="415.80" y1="281.65" x2="421.80" y2="281.65" stroke="#111" stroke-width="0.8"/>
<line x1="415.80" y1="282.50" x2="421.80" y2="282.50" stroke="#111" stroke-width="0.8"/>
<circle cx="414.90" cy="282.07" r="2.00" fill="none" stroke="#f08a1e" stroke-width="1.2"/>
<circle cx="418.80" cy="282.07" r="2.00" fill="none" stroke="#f08a1e" stroke-width="1.2"/>
<circle cx="422.70" cy="282.07" r="2.00" fill="none" stroke="#f08a1e" stroke-width="1.2"/>
<line x1="434.40" y1="303.30" x2="434.40" y2="306.30" stroke="#999" stroke-width="0.8"/>
<rect x="428.90" y="277.83" width="11.00" height="25.47" fill="#1a7ff0" stroke="#111" stroke-width="0.9"/>
<line x1="434.40" y1="276.76" x2="434.40" y2="278.89" stroke="#111" stroke-width="0.8"/>
<line x1="431.40" y1="276.76" x2="437.40" y2="276.76" stroke="#111" stroke-width="0.8"/>
<line x1="431.40" y1="278.89" x2="437.40" y2="278.89" stroke="#111" stroke-width="0.8"/>
<circle cx="430.10" cy="278.89" r="2.00" fill="none" stroke="#f08a1e" stroke-width="1.2"/>
<circle cx="434.40" cy="277.40" r="2.00" fill="none" stroke="#f08a1e" stroke-width="1.2"/>
<circle cx="438.60" cy="277.40" r="2.00" fill="none" stroke="#f08a1e" stroke-width="1.2"/>
<text x="434.40" y="273.66" font-size="7.9" text-anchor="middle" font-weight="normal" fill="#000">ns</text>
<line x1="450.00" y1="303.30" x2="450.00" y2="306.30" stroke="#999" stroke-width="0.8"/>
<rect x="444.50" y="291.62" width="11.00" height="11.68" fill="#1a7ff0" stroke="#111" stroke-width="0.9"/>
<line x1="450.00" y1="290.56" x2="450.00" y2="292.69" stroke="#111" stroke-width="0.8"/>
<line x1="447.00" y1="290.56" x2="453.00" y2="290.56" stroke="#111" stroke-width="0.8"/>
<line x1="447.00" y1="292.69" x2="453.00" y2="292.69" stroke="#111" stroke-width="0.8"/>
<circle cx="445.70" cy="292.69" r="2.00" fill="none" stroke="#f08a1e" stroke-width="1.2"/>
<circle cx="450.00" cy="290.56" r="2.00" fill="none" stroke="#f08a1e" stroke-width="1.2"/>
<circle cx="454.20" cy="291.62" r="2.00" fill="none" stroke="#f08a1e" stroke-width="1.2"/>
<polygon points="450.00,281.99 450.65,283.30 452.09,283.51 451.05,284.53 451.29,285.97 450.00,285.29 448.71,285.97 448.95,284.53 447.91,283.51 449.35,283.30" fill="#000"/>
<line x1="465.60" y1="303.30" x2="465.60" y2="306.30" stroke="#999" stroke-width="0.8"/>
<rect x="460.10" y="242.80" width="11.00" height="60.50" fill="#1a7ff0" stroke="#111" stroke-width="0.9"/>
<line x1="465.60" y1="239.61" x2="465.60" y2="245.98" stroke="#111" stroke-width="0.8"/>
<line x1="462.60" y1="239.61" x2="468.60" y2="239.61" stroke="#111" stroke-width="0.8"/>
<line x1="462.60" y1="245.98" x2="468.60" y2="245.98" stroke="#111" stroke-width="0.8"/>
<circle cx="465.60" cy="237.49" r="2.00" fill="none" stroke="#f08a1e" stroke-width="1.2"/>
<circle cx="465.60" cy="242.80" r="2.00" fill="none" stroke="#f08a1e" stroke-width="1.2"/>
<circle cx="465.60" cy="250.23" r="2.00" fill="none" stroke="#f08a1e" stroke-width="1.2"/>
<polygon points="460.35,229.98 461.00,231.29 462.44,231.50 461.40,232.52 461.64,233.96 460.35,233.28 459.06,233.96 459.30,232.52 458.26,231.50 459.70,231.29" fill="#000"/>
<polygon points="465.60,229.98 466.25,231.29 467.69,231.50 466.65,232.52 466.89,233.96 465.60,233.28 464.31,233.96 464.55,232.52 463.51,231.50 464.95,231.29" fill="#000"/>
<polygon points="470.85,229.98 471.50,231.29 472.94,231.50 471.90,232.52 472.14,233.96 470.85,233.28 469.56,233.96 469.80,232.52 468.76,231.50 470.20,231.29" fill="#000"/>
<line x1="481.20" y1="303.30" x2="481.20" y2="306.30" stroke="#999" stroke-width="0.8"/>
<rect x="475.70" y="264.03" width="11.00" height="39.27" fill="#1a7ff0" stroke="#111" stroke-width="0.9"/>
<line x1="481.20" y1="261.90" x2="481.20" y2="266.15" stroke="#111" stroke-width="0.8"/>
<line x1="478.20" y1="261.90" x2="484.20" y2="261.90" stroke="#111" stroke-width="0.8"/>
<line x1="478.20" y1="266.15" x2="484.20" y2="266.15" stroke="#111" stroke-width="0.8"/>
<circle cx="476.70" cy="266.15" r="2.00" fill="none" stroke="#f08a1e" stroke-width="1.2"/>
<circle cx="481.20" cy="260.84" r="2.00" fill="none" stroke="#f08a1e" stroke-width="1.2"/>
<circle cx="485.20" cy="264.66" r="2.00" fill="none" stroke="#f08a1e" stroke-width="1.2"/>
<polygon points="478.57,252.27 479.22,253.58 480.67,253.79 479.62,254.81 479.87,256.25 478.57,255.57 477.28,256.25 477.53,254.81 476.48,253.79 477.93,253.58" fill="#000"/>
<polygon points="483.82,252.27 484.47,253.58 485.92,253.79 484.87,254.81 485.12,256.25 483.82,255.57 482.53,256.25 482.78,254.81 481.73,253.79 483.18,253.58" fill="#000"/>
<line x1="496.80" y1="303.30" x2="496.80" y2="306.30" stroke="#999" stroke-width="0.8"/>
<rect x="491.30" y="267.21" width="11.00" height="36.09" fill="#1a7ff0" stroke="#111" stroke-width="0.9"/>
<line x1="496.80" y1="266.15" x2="496.80" y2="268.27" stroke="#111" stroke-width="0.8"/>
<line x1="493.80" y1="266.15" x2="499.80" y2="266.15" stroke="#111" stroke-width="0.8"/>
<line x1="493.80" y1="268.27" x2="499.80" y2="268.27" stroke="#111" stroke-width="0.8"/>
<circle cx="492.80" cy="266.15" r="2.00" fill="none" stroke="#f08a1e" stroke-width="1.2"/>
<circle cx="492.80" cy="269.33" r="2.00" fill="none" stroke="#f08a1e" stroke-width="1.2"/>
<circle cx="500.80" cy="269.33" r="2.00" fill="none" stroke="#f08a1e" stroke-width="1.2"/>
<polygon points="494.18,257.58 494.82,258.89 496.27,259.10 495.22,260.12 495.47,261.56 494.18,260.88 492.88,261.56 493.13,260.12 492.08,259.10 493.53,258.89" fill="#000"/>
<polygon points="499.43,257.58 500.07,258.89 501.52,259.10 500.47,260.12 500.72,261.56 499.43,260.88 498.13,261.56 498.38,260.12 497.33,259.10 498.78,258.89" fill="#000"/>
<text x="423.10" y="314.30" font-size="8.7" text-anchor="end" font-weight="normal" fill="#000" transform="rotate(-45 423.10 314.30)">Control</text>
<text x="438.70" y="314.30" font-size="8.7" text-anchor="end" font-weight="normal" fill="#000" transform="rotate(-45 438.70 314.30)">Buffer</text>
<text x="454.30" y="314.30" font-size="8.7" text-anchor="end" font-weight="normal" fill="#000" transform="rotate(-45 454.30 314.30)">Methoprene</text>
<text x="469.90" y="314.30" font-size="8.7" text-anchor="end" font-weight="normal" fill="#000" transform="rotate(-45 469.90 314.30)">20E</text>
<text x="485.50" y="314.30" font-size="8.7" text-anchor="end" font-weight="normal" fill="#000" transform="rotate(-45 485.50 314.30)">Combined</text>
<text x="501.10" y="314.30" font-size="8.7" text-anchor="end" font-weight="normal" fill="#000" transform="rotate(-45 501.10 314.30)">Inhibited</text>
<line x1="562.50" y1="228.90" x2="562.50" y2="303.30" stroke="#999" stroke-width="0.9"/>
<line x1="562.50" y1="303.30" x2="665.50" y2="303.30" stroke="#999" stroke-width="0.9"/>
<line x1="560.30" y1="303.30" x2="562.50" y2="303.30" stroke="#999" stroke-width="0.8"/>
<text x="556.70" y="306.20" font-size="8.0" text-anchor="end" font-weight="normal" fill="#000">0</text>
<line x1="560.30" y1="290.90" x2="562.50" y2="290.90" stroke="#999" stroke-width="0.8"/>
<text x="556.70" y="293.80" font-size="8.0" text-anchor="end" font-weight="normal" fill="#000">2</text>
<line x1="560.30" y1="278.50" x2="562.50" y2="278.50" stroke="#999" stroke-width="0.8"/>
<text x="556.70" y="281.40" font-size="8.0" text-anchor="end" font-weight="normal" fill="#000">4</text>
<line x1="560.30" y1="266.10" x2="562.50" y2="266.10" stroke="#999" stroke-width="0.8"/>
<text x="556.70" y="269.00" font-size="8.0" text-anchor="end" font-weight="normal" fill="#000">6</text>
<line x1="560.30" y1="253.70" x2="562.50" y2="253.70" stroke="#999" stroke-width="0.8"/>
<text x="556.70" y="256.60" font-size="8.0" text-anchor="end" font-weight="normal" fill="#000">8</text>
<line x1="560.30" y1="241.30" x2="562.50" y2="241.30" stroke="#999" stroke-width="0.8"/>
<text x="556.70" y="244.20" font-size="8.0" text-anchor="end" font-weight="normal" fill="#000">10</text>
<line x1="560.30" y1="228.90" x2="562.50" y2="228.90" stroke="#999" stroke-width="0.8"/>
<text x="556.70" y="231.80" font-size="8.0" text-anchor="end" font-weight="normal" fill="#000">12</text>
<text x="542.90" y="266.10" font-size="8.55" text-anchor="middle" font-weight="normal" fill="#000" transform="rotate(-90 542.90 266.10)">Relative band intensity</text>
<line x1="574.00" y1="303.30" x2="574.00" y2="306.30" stroke="#999" stroke-width="0.8"/>
<rect x="568.50" y="297.72" width="11.00" height="5.58" fill="#1a7ff0" stroke="#111" stroke-width="0.9"/>
<line x1="574.00" y1="297.10" x2="574.00" y2="298.34" stroke="#111" stroke-width="0.8"/>
<line x1="571.00" y1="297.10" x2="577.00" y2="297.10" stroke="#111" stroke-width="0.8"/>
<line x1="571.00" y1="298.34" x2="577.00" y2="298.34" stroke="#111" stroke-width="0.8"/>
<circle cx="570.00" cy="297.72" r="2.00" fill="none" stroke="#f08a1e" stroke-width="1.2"/>
<circle cx="574.00" cy="297.10" r="2.00" fill="none" stroke="#f08a1e" stroke-width="1.2"/>
<circle cx="578.00" cy="297.72" r="2.00" fill="none" stroke="#f08a1e" stroke-width="1.2"/>
<line x1="589.66" y1="303.30" x2="589.66" y2="306.30" stroke="#999" stroke-width="0.8"/>
<rect x="584.16" y="295.24" width="11.00" height="8.06" fill="#1a7ff0" stroke="#111" stroke-width="0.9"/>
<line x1="589.66" y1="294.62" x2="589.66" y2="295.86" stroke="#111" stroke-width="0.8"/>
<line x1="586.66" y1="294.62" x2="592.66" y2="294.62" stroke="#111" stroke-width="0.8"/>
<line x1="586.66" y1="295.86" x2="592.66" y2="295.86" stroke="#111" stroke-width="0.8"/>
<circle cx="585.66" cy="295.24" r="2.00" fill="none" stroke="#f08a1e" stroke-width="1.2"/>
<circle cx="589.66" cy="294.62" r="2.00" fill="none" stroke="#f08a1e" stroke-width="1.2"/>
<circle cx="593.66" cy="295.24" r="2.00" fill="none" stroke="#f08a1e" stroke-width="1.2"/>
<text x="589.66" y="289.38" font-size="7.9" text-anchor="middle" font-weight="normal" fill="#000">ns</text>
<line x1="605.32" y1="303.30" x2="605.32" y2="306.30" stroke="#999" stroke-width="0.8"/>
<rect x="599.82" y="302.06" width="11.00" height="1.24" fill="#1a7ff0" stroke="#111" stroke-width="0.9"/>
<line x1="605.32" y1="301.75" x2="605.32" y2="302.37" stroke="#111" stroke-width="0.8"/>
<line x1="602.32" y1="301.75" x2="608.32" y2="301.75" stroke="#111" stroke-width="0.8"/>
<line x1="602.32" y1="302.37" x2="608.32" y2="302.37" stroke="#111" stroke-width="0.8"/>
<circle cx="601.32" cy="302.06" r="2.00" fill="none" stroke="#f08a1e" stroke-width="1.2"/>
<circle cx="605.32" cy="302.06" r="2.00" fill="none" stroke="#f08a1e" stroke-width="1.2"/>
<circle cx="609.32" cy="302.06" r="2.00" fill="none" stroke="#f08a1e" stroke-width="1.2"/>
<polygon points="602.70,291.18 603.34,292.49 604.79,292.70 603.74,293.72 603.99,295.16 602.70,294.48 601.40,295.16 601.65,293.72 600.60,292.70 602.05,292.49" fill="#000"/>
<polygon points="607.95,291.18 608.59,292.49 610.04,292.70 608.99,293.72 609.24,295.16 607.95,294.48 606.65,295.16 606.90,293.72 605.85,292.70 607.30,292.49" fill="#000"/>
<line x1="620.98" y1="303.30" x2="620.98" y2="306.30" stroke="#999" stroke-width="0.8"/>
<rect x="615.48" y="247.50" width="11.00" height="55.80" fill="#1a7ff0" stroke="#111" stroke-width="0.9"/>
<line x1="620.98" y1="241.30" x2="620.98" y2="253.70" stroke="#111" stroke-width="0.8"/>
<line x1="617.98" y1="241.30" x2="623.98" y2="241.30" stroke="#111" stroke-width="0.8"/>
<line x1="617.98" y1="253.70" x2="623.98" y2="253.70" stroke="#111" stroke-width="0.8"/>
<circle cx="620.98" cy="237.58" r="2.00" fill="none" stroke="#f08a1e" stroke-width="1.2"/>
<circle cx="620.98" cy="250.60" r="2.00" fill="none" stroke="#f08a1e" stroke-width="1.2"/>
<circle cx="620.98" cy="257.42" r="2.00" fill="none" stroke="#f08a1e" stroke-width="1.2"/>
<polygon points="615.73,227.94 616.38,229.25 617.82,229.46 616.78,230.48 617.02,231.92 615.73,231.24 614.44,231.92 614.68,230.48 613.64,229.46 615.08,229.25" fill="#000"/>
<polygon points="620.98,227.94 621.63,229.25 623.07,229.46 622.03,230.48 622.27,231.92 620.98,231.24 619.69,231.92 619.93,230.48 618.89,229.46 620.33,229.25" fill="#000"/>
<polygon points="626.23,227.94 626.88,229.25 628.32,229.46 627.28,230.48 627.52,231.92 626.23,231.24 624.94,231.92 625.18,230.48 624.14,229.46 625.58,229.25" fill="#000"/>
<line x1="636.64" y1="303.30" x2="636.64" y2="306.30" stroke="#999" stroke-width="0.8"/>
<rect x="631.14" y="262.38" width="11.00" height="40.92" fill="#1a7ff0" stroke="#111" stroke-width="0.9"/>
<line x1="636.64" y1="259.28" x2="636.64" y2="265.48" stroke="#111" stroke-width="0.8"/>
<line x1="633.64" y1="259.28" x2="639.64" y2="259.28" stroke="#111" stroke-width="0.8"/>
<line x1="633.64" y1="265.48" x2="639.64" y2="265.48" stroke="#111" stroke-width="0.8"/>
<circle cx="632.64" cy="264.24" r="2.00" fill="none" stroke="#f08a1e" stroke-width="1.2"/>
<circle cx="636.64" cy="257.42" r="2.00" fill="none" stroke="#f08a1e" stroke-width="1.2"/>
<circle cx="640.64" cy="263.62" r="2.00" fill="none" stroke="#f08a1e" stroke-width="1.2"/>
<polygon points="631.39,249.64 632.04,250.95 633.48,251.16 632.44,252.18 632.68,253.62 631.39,252.94 630.10,253.62 630.34,252.18 629.30,251.16 630.74,250.95" fill="#000"/>
<polygon points="636.64,249.64 637.29,250.95 638.73,251.16 637.69,252.18 637.93,253.62 636.64,252.94 635.35,253.62 635.59,252.18 634.55,251.16 635.99,250.95" fill="#000"/>
<polygon points="641.89,249.64 642.54,250.95 643.98,251.16 642.94,252.18 643.18,253.62 641.89,252.94 640.60,253.62 640.84,252.18 639.80,251.16 641.24,250.95" fill="#000"/>
<line x1="652.30" y1="303.30" x2="652.30" y2="306.30" stroke="#999" stroke-width="0.8"/>
<rect x="646.80" y="294.00" width="11.00" height="9.30" fill="#1a7ff0" stroke="#111" stroke-width="0.9"/>
<line x1="652.30" y1="292.76" x2="652.30" y2="295.24" stroke="#111" stroke-width="0.8"/>
<line x1="649.30" y1="292.76" x2="655.30" y2="292.76" stroke="#111" stroke-width="0.8"/>
<line x1="649.30" y1="295.24" x2="655.30" y2="295.24" stroke="#111" stroke-width="0.8"/>
<circle cx="648.30" cy="294.62" r="2.00" fill="none" stroke="#f08a1e" stroke-width="1.2"/>
<circle cx="652.30" cy="291.52" r="2.00" fill="none" stroke="#f08a1e" stroke-width="1.2"/>
<circle cx="656.30" cy="294.62" r="2.00" fill="none" stroke="#f08a1e" stroke-width="1.2"/>
<text x="652.30" y="286.90" font-size="7.9" text-anchor="middle" font-weight="normal" fill="#000">ns</text>
<text x="578.30" y="314.30" font-size="8.7" text-anchor="end" font-weight="normal" fill="#000" transform="rotate(-45 578.30 314.30)">Control</text>
<text x="593.96" y="314.30" font-size="8.7" text-anchor="end" font-weight="normal" fill="#000" transform="rotate(-45 593.96 314.30)">Buffer</text>
<text x="609.62" y="314.30" font-size="8.7" text-anchor="end" font-weight="normal" fill="#000" transform="rotate(-45 609.62 314.30)">Methoprene</text>
<text x="625.28" y="314.30" font-size="8.7" text-anchor="end" font-weight="normal" fill="#000" transform="rotate(-45 625.28 314.30)">20E</text>
<text x="640.94" y="314.30" font-size="8.7" text-anchor="end" font-weight="normal" fill="#000" transform="rotate(-45 640.94 314.30)">Combined</text>
<text x="656.60" y="314.30" font-size="8.7" text-anchor="end" font-weight="normal" fill="#000" transform="rotate(-45 656.60 314.30)">Inhibited</text>
<rect x="410.30" y="375.40" width="91.60" height="10.80" fill="#fbfbfb" stroke="#999" stroke-width="0.9"/>
<g filter="url(#bl)">
<rect x="412.00" y="380.50" width="12.0" height="1.81" rx="3" ry="0.90" fill="rgb(62,62,62)"/>
<rect x="427.30" y="380.48" width="12.0" height="1.84" rx="3" ry="0.92" fill="rgb(54,54,54)"/>
<rect x="442.60" y="380.61" width="12.0" height="1.58" rx="3" ry="0.79" fill="rgb(121,121,121)"/>
<rect x="457.90" y="380.38" width="12.0" height="2.05" rx="3" ry="1.02" fill="rgb(0,0,0)"/>
<rect x="473.20" y="380.40" width="12.0" height="2.00" rx="3" ry="1.00" fill="rgb(14,14,14)"/>
<rect x="488.50" y="380.43" width="12.0" height="1.94" rx="3" ry="0.97" fill="rgb(27,27,27)"/>
</g>
<text x="408.30" y="383.50" font-size="7.4" text-anchor="end" font-weight="normal" fill="#000">JNK</text>
<text x="504.50" y="383.50" font-size="7.4" text-anchor="start" font-weight="normal" fill="#000">44 kDa</text>
<rect x="410.30" y="390.30" width="91.60" height="10.80" fill="#fbfbfb" stroke="#999" stroke-width="0.9"/>
<g filter="url(#bl)">
<rect x="412.00" y="394.60" width="12.0" height="3.40" rx="3" ry="1.70" fill="rgb(0,0,0)"/>
<rect x="427.30" y="394.60" width="12.0" height="3.40" rx="3" ry="1.70" fill="rgb(0,0,0)"/>
<rect x="442.60" y="394.60" width="12.0" height="3.40" rx="3" ry="1.70" fill="rgb(0,0,0)"/>
<rect x="457.90" y="394.60" width="12.0" height="3.40" rx="3" ry="1.70" fill="rgb(0,0,0)"/>
<rect x="473.20" y="394.60" width="12.0" height="3.40" rx="3" ry="1.70" fill="rgb(0,0,0)"/>
<rect x="488.50" y="394.60" width="12.0" height="3.40" rx="3" ry="1.70" fill="rgb(0,0,0)"/>
</g>
<text x="408.30" y="398.40" font-size="7.4" text-anchor="end" font-weight="normal" fill="#000">β-Actin</text>
<text x="504.50" y="398.40" font-size="7.4" text-anchor="start" font-weight="normal" fill="#000">42 kDa</text>
<rect x="567.40" y="375.40" width="91.60" height="10.80" fill="#fbfbfb" stroke="#999" stroke-width="0.9"/>
<g filter="url(#bl)">
<rect x="569.10" y="380.63" width="12.0" height="1.53" rx="3" ry="0.77" fill="rgb(214,214,214)"/>
<rect x="584.40" y="380.46" width="12.0" height="1.88" rx="3" ry="0.94" fill="rgb(147,147,147)"/>
<rect x="599.70" y="380.68" width="12.0" height="1.43" rx="3" ry="0.72" fill="rgb(233,233,233)"/>
<rect x="615.00" y="380.08" width="12.0" height="2.63" rx="3" ry="1.32" fill="rgb(0,0,0)"/>
<rect x="630.30" y="380.12" width="12.0" height="2.56" rx="3" ry="1.28" fill="rgb(14,14,14)"/>
<rect x="645.60" y="380.59" width="12.0" height="1.63" rx="3" ry="0.81" fill="rgb(196,196,196)"/>
</g>
<text x="565.40" y="383.50" font-size="7.4" text-anchor="end" font-weight="normal" fill="#000">p-JNK</text>
<text x="661.60" y="383.50" font-size="7.4" text-anchor="start" font-weight="normal" fill="#000">44 kDa</text>
<rect x="567.40" y="390.30" width="91.60" height="10.80" fill="#fbfbfb" stroke="#999" stroke-width="0.9"/>
<g filter="url(#bl)">
<rect x="569.10" y="394.60" width="12.0" height="3.40" rx="3" ry="1.70" fill="rgb(0,0,0)"/>
<rect x="584.40" y="394.60" width="12.0" height="3.40" rx="3" ry="1.70" fill="rgb(0,0,0)"/>
<rect x="599.70" y="394.60" width="12.0" height="3.40" rx="3" ry="1.70" fill="rgb(0,0,0)"/>
<rect x="615.00" y="394.60" width="12.0" height="3.40" rx="3" ry="1.70" fill="rgb(0,0,0)"/>
<rect x="630.30" y="394.60" width="12.0" height="3.40" rx="3" ry="1.70" fill="rgb(0,0,0)"/>
<rect x="645.60" y="394.60" width="12.0" height="3.40" rx="3" ry="1.70" fill="rgb(0,0,0)"/>
</g>
<text x="565.40" y="398.40" font-size="7.4" text-anchor="end" font-weight="normal" fill="#000">β-Actin</text>
<text x="661.60" y="398.40" font-size="7.4" text-anchor="start" font-weight="normal" fill="#000">42 kDa</text>
<line x1="406.50" y1="413.30" x2="406.50" y2="488.30" stroke="#999" stroke-width="0.9"/>
<line x1="406.50" y1="488.30" x2="509.50" y2="488.30" stroke="#999" stroke-width="0.9"/>
<line x1="404.30" y1="488.30" x2="406.50" y2="488.30" stroke="#999" stroke-width="0.8"/>
<text x="400.70" y="491.20" font-size="8.0" text-anchor="end" font-weight="normal" fill="#000">0.0</text>
<line x1="404.30" y1="475.80" x2="406.50" y2="475.80" stroke="#999" stroke-width="0.8"/>
<text x="400.70" y="478.70" font-size="8.0" text-anchor="end" font-weight="normal" fill="#000">0.5</text>
<line x1="404.30" y1="463.30" x2="406.50" y2="463.30" stroke="#999" stroke-width="0.8"/>
<text x="400.70" y="466.20" font-size="8.0" text-anchor="end" font-weight="normal" fill="#000">1.0</text>
<line x1="404.30" y1="450.80" x2="406.50" y2="450.80" stroke="#999" stroke-width="0.8"/>
<text x="400.70" y="453.70" font-size="8.0" text-anchor="end" font-weight="normal" fill="#000">1.5</text>
<line x1="404.30" y1="438.30" x2="406.50" y2="438.30" stroke="#999" stroke-width="0.8"/>
<text x="400.70" y="441.20" font-size="8.0" text-anchor="end" font-weight="normal" fill="#000">2.0</text>
<line x1="404.30" y1="425.80" x2="406.50" y2="425.80" stroke="#999" stroke-width="0.8"/>
<text x="400.70" y="428.70" font-size="8.0" text-anchor="end" font-weight="normal" fill="#000">2.5</text>
<line x1="404.30" y1="413.30" x2="406.50" y2="413.30" stroke="#999" stroke-width="0.8"/>
<text x="400.70" y="416.20" font-size="8.0" text-anchor="end" font-weight="normal" fill="#000">3.0</text>
<text x="384.80" y="450.80" font-size="8.55" text-anchor="middle" font-weight="normal" fill="#000" transform="rotate(-90 384.80 450.80)">Relative band intensity</text>
<line x1="418.80" y1="488.30" x2="418.80" y2="491.30" stroke="#999" stroke-width="0.8"/>
<rect x="413.30" y="463.80" width="11.00" height="24.50" fill="#1a7ff0" stroke="#111" stroke-width="0.9"/>
<line x1="418.80" y1="463.30" x2="418.80" y2="464.30" stroke="#111" stroke-width="0.8"/>
<line x1="415.80" y1="463.30" x2="421.80" y2="463.30" stroke="#111" stroke-width="0.8"/>
<line x1="415.80" y1="464.30" x2="421.80" y2="464.30" stroke="#111" stroke-width="0.8"/>
<circle cx="414.90" cy="464.55" r="2.00" fill="none" stroke="#f08a1e" stroke-width="1.2"/>
<circle cx="418.80" cy="462.80" r="2.00" fill="none" stroke="#f08a1e" stroke-width="1.2"/>
<circle cx="422.70" cy="462.80" r="2.00" fill="none" stroke="#f08a1e" stroke-width="1.2"/>
<line x1="434.40" y1="488.30" x2="434.40" y2="491.30" stroke="#999" stroke-width="0.8"/>
<rect x="428.90" y="459.55" width="11.00" height="28.75" fill="#1a7ff0" stroke="#111" stroke-width="0.9"/>
<line x1="434.40" y1="458.30" x2="434.40" y2="460.80" stroke="#111" stroke-width="0.8"/>
<line x1="431.40" y1="458.30" x2="437.40" y2="458.30" stroke="#111" stroke-width="0.8"/>
<line x1="431.40" y1="460.80" x2="437.40" y2="460.80" stroke="#111" stroke-width="0.8"/>
<circle cx="430.10" cy="460.30" r="2.00" fill="none" stroke="#f08a1e" stroke-width="1.2"/>
<circle cx="434.40" cy="457.80" r="2.00" fill="none" stroke="#f08a1e" stroke-width="1.2"/>
<circle cx="438.60" cy="459.55" r="2.00" fill="none" stroke="#f08a1e" stroke-width="1.2"/>
<text x="434.40" y="454.25" font-size="7.9" text-anchor="middle" font-weight="normal" fill="#000">ns</text>
<line x1="450.00" y1="488.30" x2="450.00" y2="491.30" stroke="#999" stroke-width="0.8"/>
<rect x="444.50" y="472.05" width="11.00" height="16.25" fill="#1a7ff0" stroke="#111" stroke-width="0.9"/>
<line x1="450.00" y1="470.80" x2="450.00" y2="473.30" stroke="#111" stroke-width="0.8"/>
<line x1="447.00" y1="470.80" x2="453.00" y2="470.80" stroke="#111" stroke-width="0.8"/>
<line x1="447.00" y1="473.30" x2="453.00" y2="473.30" stroke="#111" stroke-width="0.8"/>
<circle cx="445.70" cy="473.30" r="2.00" fill="none" stroke="#f08a1e" stroke-width="1.2"/>
<circle cx="450.00" cy="470.80" r="2.00" fill="none" stroke="#f08a1e" stroke-width="1.2"/>
<circle cx="454.20" cy="471.55" r="2.00" fill="none" stroke="#f08a1e" stroke-width="1.2"/>
<polygon points="450.00,464.10 450.65,465.41 452.09,465.62 451.05,466.64 451.29,468.08 450.00,467.40 448.71,468.08 448.95,466.64 447.91,465.62 449.35,465.41" fill="#000"/>
<line x1="465.60" y1="488.30" x2="465.60" y2="491.30" stroke="#999" stroke-width="0.8"/>
<rect x="460.10" y="425.80" width="11.00" height="62.50" fill="#1a7ff0" stroke="#111" stroke-width="0.9"/>
<line x1="465.60" y1="422.05" x2="465.60" y2="429.55" stroke="#111" stroke-width="0.8"/>
<line x1="462.60" y1="422.05" x2="468.60" y2="422.05" stroke="#111" stroke-width="0.8"/>
<line x1="462.60" y1="429.55" x2="468.60" y2="429.55" stroke="#111" stroke-width="0.8"/>
<circle cx="461.60" cy="422.05" r="2.00" fill="none" stroke="#f08a1e" stroke-width="1.2"/>
<circle cx="465.60" cy="433.30" r="2.00" fill="none" stroke="#f08a1e" stroke-width="1.2"/>
<circle cx="469.60" cy="423.30" r="2.00" fill="none" stroke="#f08a1e" stroke-width="1.2"/>
<polygon points="460.35,413.60 461.00,414.91 462.44,415.12 461.40,416.14 461.64,417.58 460.35,416.90 459.06,417.58 459.30,416.14 458.26,415.12 459.70,414.91" fill="#000"/>
<polygon points="465.60,413.60 466.25,414.91 467.69,415.12 466.65,416.14 466.89,417.58 465.60,416.90 464.31,417.58 464.55,416.14 463.51,415.12 464.95,414.91" fill="#000"/>
<polygon points="470.85,413.60 471.50,414.91 472.94,415.12 471.90,416.14 472.14,417.58 470.85,416.90 469.56,417.58 469.80,416.14 468.76,415.12 470.20,414.91" fill="#000"/>
<line x1="481.20" y1="488.30" x2="481.20" y2="491.30" stroke="#999" stroke-width="0.8"/>
<rect x="475.70" y="445.80" width="11.00" height="42.50" fill="#1a7ff0" stroke="#111" stroke-width="0.9"/>
<line x1="481.20" y1="443.80" x2="481.20" y2="447.80" stroke="#111" stroke-width="0.8"/>
<line x1="478.20" y1="443.80" x2="484.20" y2="443.80" stroke="#111" stroke-width="0.8"/>
<line x1="478.20" y1="447.80" x2="484.20" y2="447.80" stroke="#111" stroke-width="0.8"/>
<circle cx="476.70" cy="447.05" r="2.00" fill="none" stroke="#f08a1e" stroke-width="1.2"/>
<circle cx="481.20" cy="441.30" r="2.00" fill="none" stroke="#f08a1e" stroke-width="1.2"/>
<circle cx="485.20" cy="446.30" r="2.00" fill="none" stroke="#f08a1e" stroke-width="1.2"/>
<polygon points="478.57,433.60 479.22,434.91 480.67,435.12 479.62,436.14 479.87,437.58 478.57,436.90 477.28,437.58 477.53,436.14 476.48,435.12 477.93,434.91" fill="#000"/>
<polygon points="483.82,433.60 484.47,434.91 485.92,435.12 484.87,436.14 485.12,437.58 483.82,436.90 482.53,437.58 482.78,436.14 481.73,435.12 483.18,434.91" fill="#000"/>
<line x1="496.80" y1="488.30" x2="496.80" y2="491.30" stroke="#999" stroke-width="0.8"/>
<rect x="491.30" y="452.80" width="11.00" height="35.50" fill="#1a7ff0" stroke="#111" stroke-width="0.9"/>
<line x1="496.80" y1="451.55" x2="496.80" y2="454.05" stroke="#111" stroke-width="0.8"/>
<line x1="493.80" y1="451.55" x2="499.80" y2="451.55" stroke="#111" stroke-width="0.8"/>
<line x1="493.80" y1="454.05" x2="499.80" y2="454.05" stroke="#111" stroke-width="0.8"/>
<circle cx="492.80" cy="451.30" r="2.00" fill="none" stroke="#f08a1e" stroke-width="1.2"/>
<circle cx="492.80" cy="454.55" r="2.00" fill="none" stroke="#f08a1e" stroke-width="1.2"/>
<circle cx="500.80" cy="453.30" r="2.00" fill="none" stroke="#f08a1e" stroke-width="1.2"/>
<polygon points="494.18,442.35 494.82,443.66 496.27,443.87 495.22,444.89 495.47,446.33 494.18,445.65 492.88,446.33 493.13,444.89 492.08,443.87 493.53,443.66" fill="#000"/>
<polygon points="499.43,442.35 500.07,443.66 501.52,443.87 500.47,444.89 500.72,446.33 499.43,445.65 498.13,446.33 498.38,444.89 497.33,443.87 498.78,443.66" fill="#000"/>
<text x="423.10" y="499.30" font-size="8.7" text-anchor="end" font-weight="normal" fill="#000" transform="rotate(-45 423.10 499.30)">Control</text>
<text x="438.70" y="499.30" font-size="8.7" text-anchor="end" font-weight="normal" fill="#000" transform="rotate(-45 438.70 499.30)">Buffer</text>
<text x="454.30" y="499.30" font-size="8.7" text-anchor="end" font-weight="normal" fill="#000" transform="rotate(-45 454.30 499.30)">Methoprene</text>
<text x="469.90" y="499.30" font-size="8.7" text-anchor="end" font-weight="normal" fill="#000" transform="rotate(-45 469.90 499.30)">20E</text>
<text x="485.50" y="499.30" font-size="8.7" text-anchor="end" font-weight="normal" fill="#000" transform="rotate(-45 485.50 499.30)">Combined</text>
<text x="501.10" y="499.30" font-size="8.7" text-anchor="end" font-weight="normal" fill="#000" transform="rotate(-45 501.10 499.30)">Inhibited</text>
<line x1="562.50" y1="413.30" x2="562.50" y2="488.30" stroke="#999" stroke-width="0.9"/>
<line x1="562.50" y1="488.30" x2="665.50" y2="488.30" stroke="#999" stroke-width="0.9"/>
<line x1="560.30" y1="488.30" x2="562.50" y2="488.30" stroke="#999" stroke-width="0.8"/>
<text x="556.70" y="491.20" font-size="8.0" text-anchor="end" font-weight="normal" fill="#000">0</text>
<line x1="560.30" y1="477.59" x2="562.50" y2="477.59" stroke="#999" stroke-width="0.8"/>
<text x="556.70" y="480.49" font-size="8.0" text-anchor="end" font-weight="normal" fill="#000">1</text>
<line x1="560.30" y1="466.87" x2="562.50" y2="466.87" stroke="#999" stroke-width="0.8"/>
<text x="556.70" y="469.77" font-size="8.0" text-anchor="end" font-weight="normal" fill="#000">2</text>
<line x1="560.30" y1="456.16" x2="562.50" y2="456.16" stroke="#999" stroke-width="0.8"/>
<text x="556.70" y="459.06" font-size="8.0" text-anchor="end" font-weight="normal" fill="#000">3</text>
<line x1="560.30" y1="445.44" x2="562.50" y2="445.44" stroke="#999" stroke-width="0.8"/>
<text x="556.70" y="448.34" font-size="8.0" text-anchor="end" font-weight="normal" fill="#000">4</text>
<line x1="560.30" y1="434.73" x2="562.50" y2="434.73" stroke="#999" stroke-width="0.8"/>
<text x="556.70" y="437.63" font-size="8.0" text-anchor="end" font-weight="normal" fill="#000">5</text>
<line x1="560.30" y1="424.01" x2="562.50" y2="424.01" stroke="#999" stroke-width="0.8"/>
<text x="556.70" y="426.91" font-size="8.0" text-anchor="end" font-weight="normal" fill="#000">6</text>
<line x1="560.30" y1="413.30" x2="562.50" y2="413.30" stroke="#999" stroke-width="0.8"/>
<text x="556.70" y="416.20" font-size="8.0" text-anchor="end" font-weight="normal" fill="#000">7</text>
<text x="542.90" y="450.80" font-size="8.55" text-anchor="middle" font-weight="normal" fill="#000" transform="rotate(-90 542.90 450.80)">Relative band intensity</text>
<line x1="574.00" y1="488.30" x2="574.00" y2="491.30" stroke="#999" stroke-width="0.8"/>
<rect x="568.50" y="478.66" width="11.00" height="9.64" fill="#1a7ff0" stroke="#111" stroke-width="0.9"/>
<line x1="574.00" y1="478.12" x2="574.00" y2="479.19" stroke="#111" stroke-width="0.8"/>
<line x1="571.00" y1="478.12" x2="577.00" y2="478.12" stroke="#111" stroke-width="0.8"/>
<line x1="571.00" y1="479.19" x2="577.00" y2="479.19" stroke="#111" stroke-width="0.8"/>
<circle cx="570.00" cy="478.66" r="2.00" fill="none" stroke="#f08a1e" stroke-width="1.2"/>
<circle cx="574.00" cy="477.59" r="2.00" fill="none" stroke="#f08a1e" stroke-width="1.2"/>
<circle cx="578.00" cy="477.59" r="2.00" fill="none" stroke="#f08a1e" stroke-width="1.2"/>
<line x1="589.66" y1="488.30" x2="589.66" y2="491.30" stroke="#999" stroke-width="0.8"/>
<rect x="584.16" y="475.98" width="11.00" height="12.32" fill="#1a7ff0" stroke="#111" stroke-width="0.9"/>
<line x1="589.66" y1="474.91" x2="589.66" y2="477.05" stroke="#111" stroke-width="0.8"/>
<line x1="586.66" y1="474.91" x2="592.66" y2="474.91" stroke="#111" stroke-width="0.8"/>
<line x1="586.66" y1="477.05" x2="592.66" y2="477.05" stroke="#111" stroke-width="0.8"/>
<circle cx="585.66" cy="476.51" r="2.00" fill="none" stroke="#f08a1e" stroke-width="1.2"/>
<circle cx="589.66" cy="474.37" r="2.00" fill="none" stroke="#f08a1e" stroke-width="1.2"/>
<circle cx="593.66" cy="475.44" r="2.00" fill="none" stroke="#f08a1e" stroke-width="1.2"/>
<text x="589.66" y="469.07" font-size="7.9" text-anchor="middle" font-weight="normal" fill="#000">ns</text>
<line x1="605.32" y1="488.30" x2="605.32" y2="491.30" stroke="#999" stroke-width="0.8"/>
<rect x="599.82" y="485.62" width="11.00" height="2.68" fill="#1a7ff0" stroke="#111" stroke-width="0.9"/>
<line x1="605.32" y1="485.09" x2="605.32" y2="486.16" stroke="#111" stroke-width="0.8"/>
<line x1="602.32" y1="485.09" x2="608.32" y2="485.09" stroke="#111" stroke-width="0.8"/>
<line x1="602.32" y1="486.16" x2="608.32" y2="486.16" stroke="#111" stroke-width="0.8"/>
<circle cx="601.32" cy="485.62" r="2.00" fill="none" stroke="#f08a1e" stroke-width="1.2"/>
<circle cx="605.32" cy="485.09" r="2.00" fill="none" stroke="#f08a1e" stroke-width="1.2"/>
<circle cx="609.32" cy="485.62" r="2.00" fill="none" stroke="#f08a1e" stroke-width="1.2"/>
<polygon points="602.70,475.92 603.34,477.23 604.79,477.44 603.74,478.46 603.99,479.90 602.70,479.22 601.40,479.90 601.65,478.46 600.60,477.44 602.05,477.23" fill="#000"/>
<polygon points="607.95,475.92 608.59,477.23 610.04,477.44 608.99,478.46 609.24,479.90 607.95,479.22 606.65,479.90 606.90,478.46 605.85,477.44 607.30,477.23" fill="#000"/>
<line x1="620.98" y1="488.30" x2="620.98" y2="491.30" stroke="#999" stroke-width="0.8"/>
<rect x="615.48" y="424.01" width="11.00" height="64.29" fill="#1a7ff0" stroke="#111" stroke-width="0.9"/>
<line x1="620.98" y1="420.80" x2="620.98" y2="427.23" stroke="#111" stroke-width="0.8"/>
<line x1="617.98" y1="420.80" x2="623.98" y2="420.80" stroke="#111" stroke-width="0.8"/>
<line x1="617.98" y1="427.23" x2="623.98" y2="427.23" stroke="#111" stroke-width="0.8"/>
<circle cx="616.98" cy="426.69" r="2.00" fill="none" stroke="#f08a1e" stroke-width="1.2"/>
<circle cx="620.98" cy="417.59" r="2.00" fill="none" stroke="#f08a1e" stroke-width="1.2"/>
<circle cx="624.98" cy="424.55" r="2.00" fill="none" stroke="#f08a1e" stroke-width="1.2"/>
<polygon points="615.73,408.96 616.38,410.27 617.82,410.48 616.78,411.50 617.02,412.94 615.73,412.26 614.44,412.94 614.68,411.50 613.64,410.48 615.08,410.27" fill="#000"/>
<polygon points="620.98,408.96 621.63,410.27 623.07,410.48 622.03,411.50 622.27,412.94 620.98,412.26 619.69,412.94 619.93,411.50 618.89,410.48 620.33,410.27" fill="#000"/>
<polygon points="626.23,408.96 626.88,410.27 628.32,410.48 627.28,411.50 627.52,412.94 626.23,412.26 624.94,412.94 625.18,411.50 624.14,410.48 625.58,410.27" fill="#000"/>
<line x1="636.64" y1="488.30" x2="636.64" y2="491.30" stroke="#999" stroke-width="0.8"/>
<rect x="631.14" y="445.44" width="11.00" height="42.86" fill="#1a7ff0" stroke="#111" stroke-width="0.9"/>
<line x1="636.64" y1="444.37" x2="636.64" y2="446.51" stroke="#111" stroke-width="0.8"/>
<line x1="633.64" y1="444.37" x2="639.64" y2="444.37" stroke="#111" stroke-width="0.8"/>
<line x1="633.64" y1="446.51" x2="639.64" y2="446.51" stroke="#111" stroke-width="0.8"/>
<circle cx="632.64" cy="447.05" r="2.00" fill="none" stroke="#f08a1e" stroke-width="1.2"/>
<circle cx="636.64" cy="444.37" r="2.00" fill="none" stroke="#f08a1e" stroke-width="1.2"/>
<circle cx="640.64" cy="444.37" r="2.00" fill="none" stroke="#f08a1e" stroke-width="1.2"/>
<polygon points="631.39,431.46 632.04,432.77 633.48,432.98 632.44,434.00 632.68,435.44 631.39,434.76 630.10,435.44 630.34,434.00 629.30,432.98 630.74,432.77" fill="#000"/>
<polygon points="636.64,431.46 637.29,432.77 638.73,432.98 637.69,434.00 637.93,435.44 636.64,434.76 635.35,435.44 635.59,434.00 634.55,432.98 635.99,432.77" fill="#000"/>
<polygon points="641.89,431.46 642.54,432.77 643.98,432.98 642.94,434.00 643.18,435.44 641.89,434.76 640.60,435.44 640.84,434.00 639.80,432.98 641.24,432.77" fill="#000"/>
<line x1="652.30" y1="488.30" x2="652.30" y2="491.30" stroke="#999" stroke-width="0.8"/>
<rect x="646.80" y="478.12" width="11.00" height="10.18" fill="#1a7ff0" stroke="#111" stroke-width="0.9"/>
<line x1="652.30" y1="477.59" x2="652.30" y2="478.66" stroke="#111" stroke-width="0.8"/>
<line x1="649.30" y1="477.59" x2="655.30" y2="477.59" stroke="#111" stroke-width="0.8"/>
<line x1="649.30" y1="478.66" x2="655.30" y2="478.66" stroke="#111" stroke-width="0.8"/>
<circle cx="648.30" cy="478.12" r="2.00" fill="none" stroke="#f08a1e" stroke-width="1.2"/>
<circle cx="652.30" cy="477.05" r="2.00" fill="none" stroke="#f08a1e" stroke-width="1.2"/>
<circle cx="656.30" cy="477.59" r="2.00" fill="none" stroke="#f08a1e" stroke-width="1.2"/>
<text x="652.30" y="471.75" font-size="7.9" text-anchor="middle" font-weight="normal" fill="#000">ns</text>
<text x="578.30" y="499.30" font-size="8.7" text-anchor="end" font-weight="normal" fill="#000" transform="rotate(-45 578.30 499.30)">Control</text>
<text x="593.96" y="499.30" font-size="8.7" text-anchor="end" font-weight="normal" fill="#000" transform="rotate(-45 593.96 499.30)">Buffer</text>
<text x="609.62" y="499.30" font-size="8.7" text-anchor="end" font-weight="normal" fill="#000" transform="rotate(-45 609.62 499.30)">Methoprene</text>
<text x="625.28" y="499.30" font-size="8.7" text-anchor="end" font-weight="normal" fill="#000" transform="rotate(-45 625.28 499.30)">20E</text>
<text x="640.94" y="499.30" font-size="8.7" text-anchor="end" font-weight="normal" fill="#000" transform="rotate(-45 640.94 499.30)">Combined</text>
<text x="656.60" y="499.30" font-size="8.7" text-anchor="end" font-weight="normal" fill="#000" transform="rotate(-45 656.60 499.30)">Inhibited</text>
<text x="2.50" y="374.60" font-size="13" text-anchor="start" font-weight="bold" fill="#000">f</text>
<rect x="34.60" y="375.30" width="140.00" height="113.00" fill="none" stroke="#6a6a6a" stroke-width="0.9"/>
<line x1="31.60" y1="488.30" x2="34.60" y2="488.30" stroke="#777" stroke-width="0.7"/>
<text x="29.20" y="490.90" font-size="7.4" text-anchor="end" font-weight="normal" fill="#000">0</text>
<line x1="31.60" y1="460.05" x2="34.60" y2="460.05" stroke="#777" stroke-width="0.7"/>
<text x="29.20" y="462.65" font-size="7.4" text-anchor="end" font-weight="normal" fill="#000">200</text>
<line x1="31.60" y1="431.80" x2="34.60" y2="431.80" stroke="#777" stroke-width="0.7"/>
<text x="29.20" y="434.40" font-size="7.4" text-anchor="end" font-weight="normal" fill="#000">400</text>
<line x1="31.60" y1="403.55" x2="34.60" y2="403.55" stroke="#777" stroke-width="0.7"/>
<text x="29.20" y="406.15" font-size="7.4" text-anchor="end" font-weight="normal" fill="#000">600</text>
<line x1="31.60" y1="375.30" x2="34.60" y2="375.30" stroke="#777" stroke-width="0.7"/>
<text x="29.20" y="377.90" font-size="7.4" text-anchor="end" font-weight="normal" fill="#000">800</text>
<text x="7.50" y="431.80" font-size="8.0" text-anchor="middle" font-weight="normal" fill="#000" transform="rotate(-90 7.50 431.80)">JHIII titer (ng/g)</text>
<line x1="49.50" y1="488.30" x2="49.50" y2="491.30" stroke="#777" stroke-width="0.7"/>
<line x1="49.50" y1="447.90" x2="49.50" y2="454.40" stroke="#111" stroke-width="1.0"/>
<line x1="49.50" y1="462.60" x2="49.50" y2="469.00" stroke="#111" stroke-width="1.0"/>
<line x1="45.70" y1="447.90" x2="53.30" y2="447.90" stroke="#111" stroke-width="1.0"/>
<line x1="45.70" y1="469.00" x2="53.30" y2="469.00" stroke="#111" stroke-width="1.0"/>
<rect x="42.30" y="454.40" width="14.40" height="8.20" fill="#c4f4b8" stroke="#111" stroke-width="1.0"/>
<line x1="42.30" y1="459.50" x2="56.70" y2="459.50" stroke="#111" stroke-width="1.0"/>
<circle cx="49.50" cy="447.90" r="1.90" fill="#ff6a14" stroke="none" stroke-width="1"/>
<circle cx="51.60" cy="453.00" r="1.90" fill="#ff6a14" stroke="none" stroke-width="1"/>
<circle cx="47.60" cy="456.40" r="1.90" fill="#ff6a14" stroke="none" stroke-width="1"/>
<circle cx="45.50" cy="460.50" r="1.90" fill="#ff6a14" stroke="none" stroke-width="1"/>
<circle cx="53.50" cy="459.50" r="1.90" fill="#ff6a14" stroke="none" stroke-width="1"/>
<circle cx="44.00" cy="463.00" r="1.90" fill="#ff6a14" stroke="none" stroke-width="1"/>
<circle cx="55.20" cy="463.70" r="1.90" fill="#ff6a14" stroke="none" stroke-width="1"/>
<circle cx="50.00" cy="465.00" r="1.90" fill="#ff6a14" stroke="none" stroke-width="1"/>
<circle cx="47.00" cy="467.50" r="1.90" fill="#ff6a14" stroke="none" stroke-width="1"/>
<circle cx="49.50" cy="469.50" r="1.90" fill="#ff6a14" stroke="none" stroke-width="1"/>
<line x1="71.80" y1="488.30" x2="71.80" y2="491.30" stroke="#777" stroke-width="0.7"/>
<line x1="71.80" y1="425.40" x2="71.80" y2="431.00" stroke="#111" stroke-width="1.0"/>
<line x1="71.80" y1="438.60" x2="71.80" y2="447.90" stroke="#111" stroke-width="1.0"/>
<line x1="68.00" y1="425.40" x2="75.60" y2="425.40" stroke="#111" stroke-width="1.0"/>
<line x1="68.00" y1="447.90" x2="75.60" y2="447.90" stroke="#111" stroke-width="1.0"/>
<rect x="64.60" y="431.00" width="14.40" height="7.60" fill="#c4f4b8" stroke="#111" stroke-width="1.0"/>
<line x1="64.60" y1="435.50" x2="79.00" y2="435.50" stroke="#111" stroke-width="1.0"/>
<circle cx="74.80" cy="425.40" r="1.90" fill="#ff6a14" stroke="none" stroke-width="1"/>
<circle cx="70.80" cy="428.50" r="1.90" fill="#ff6a14" stroke="none" stroke-width="1"/>
<circle cx="67.80" cy="431.50" r="1.90" fill="#ff6a14" stroke="none" stroke-width="1"/>
<circle cx="73.80" cy="433.00" r="1.90" fill="#ff6a14" stroke="none" stroke-width="1"/>
<circle cx="66.80" cy="435.50" r="1.90" fill="#ff6a14" stroke="none" stroke-width="1"/>
<circle cx="76.80" cy="435.00" r="1.90" fill="#ff6a14" stroke="none" stroke-width="1"/>
<circle cx="71.80" cy="437.00" r="1.90" fill="#ff6a14" stroke="none" stroke-width="1"/>
<circle cx="68.80" cy="439.00" r="1.90" fill="#ff6a14" stroke="none" stroke-width="1"/>
<circle cx="74.80" cy="439.50" r="1.90" fill="#ff6a14" stroke="none" stroke-width="1"/>
<circle cx="71.80" cy="447.90" r="1.90" fill="#ff6a14" stroke="none" stroke-width="1"/>
<line x1="93.70" y1="488.30" x2="93.70" y2="491.30" stroke="#777" stroke-width="0.7"/>
<line x1="93.70" y1="440.60" x2="93.70" y2="446.00" stroke="#111" stroke-width="1.0"/>
<line x1="93.70" y1="453.30" x2="93.70" y2="458.30" stroke="#111" stroke-width="1.0"/>
<line x1="89.90" y1="440.60" x2="97.50" y2="440.60" stroke="#111" stroke-width="1.0"/>
<line x1="89.90" y1="458.30" x2="97.50" y2="458.30" stroke="#111" stroke-width="1.0"/>
<rect x="86.50" y="446.00" width="14.40" height="7.30" fill="#c4f4b8" stroke="#111" stroke-width="1.0"/>
<line x1="86.50" y1="449.50" x2="100.90" y2="449.50" stroke="#111" stroke-width="1.0"/>
<circle cx="93.70" cy="440.60" r="1.90" fill="#ff6a14" stroke="none" stroke-width="1"/>
<circle cx="90.70" cy="445.00" r="1.90" fill="#ff6a14" stroke="none" stroke-width="1"/>
<circle cx="97.70" cy="445.50" r="1.90" fill="#ff6a14" stroke="none" stroke-width="1"/>
<circle cx="88.70" cy="448.50" r="1.90" fill="#ff6a14" stroke="none" stroke-width="1"/>
<circle cx="95.70" cy="448.50" r="1.90" fill="#ff6a14" stroke="none" stroke-width="1"/>
<circle cx="99.20" cy="449.50" r="1.90" fill="#ff6a14" stroke="none" stroke-width="1"/>
<circle cx="91.70" cy="451.00" r="1.90" fill="#ff6a14" stroke="none" stroke-width="1"/>
<circle cx="96.70" cy="452.00" r="1.90" fill="#ff6a14" stroke="none" stroke-width="1"/>
<circle cx="89.70" cy="452.50" r="1.90" fill="#ff6a14" stroke="none" stroke-width="1"/>
<circle cx="93.70" cy="455.00" r="1.90" fill="#ff6a14" stroke="none" stroke-width="1"/>
<circle cx="92.70" cy="458.00" r="1.90" fill="#ff6a14" stroke="none" stroke-width="1"/>
<line x1="115.50" y1="488.30" x2="115.50" y2="491.30" stroke="#777" stroke-width="0.7"/>
<line x1="115.50" y1="391.80" x2="115.50" y2="408.50" stroke="#111" stroke-width="1.0"/>
<line x1="115.50" y1="422.40" x2="115.50" y2="434.80" stroke="#111" stroke-width="1.0"/>
<line x1="111.70" y1="391.80" x2="119.30" y2="391.80" stroke="#111" stroke-width="1.0"/>
<line x1="111.70" y1="434.80" x2="119.30" y2="434.80" stroke="#111" stroke-width="1.0"/>
<rect x="108.30" y="408.50" width="14.40" height="13.90" fill="#c4f4b8" stroke="#111" stroke-width="1.0"/>
<line x1="108.30" y1="415.50" x2="122.70" y2="415.50" stroke="#111" stroke-width="1.0"/>
<line x1="113.50" y1="415.50" x2="117.50" y2="415.50" stroke="#111" stroke-width="0.9"/>
<line x1="115.50" y1="413.50" x2="115.50" y2="417.50" stroke="#111" stroke-width="0.9"/>
<circle cx="115.50" cy="391.80" r="1.90" fill="#ff6a14" stroke="none" stroke-width="1"/>
<circle cx="115.50" cy="400.00" r="1.90" fill="#ff6a14" stroke="none" stroke-width="1"/>
<circle cx="111.00" cy="410.00" r="1.90" fill="#ff6a14" stroke="none" stroke-width="1"/>
<circle cx="120.00" cy="410.00" r="1.90" fill="#ff6a14" stroke="none" stroke-width="1"/>
<circle cx="111.00" cy="415.50" r="1.90" fill="#ff6a14" stroke="none" stroke-width="1"/>
<circle cx="120.00" cy="415.50" r="1.90" fill="#ff6a14" stroke="none" stroke-width="1"/>
<circle cx="115.50" cy="415.50" r="1.90" fill="#ff6a14" stroke="none" stroke-width="1"/>
<circle cx="111.00" cy="421.00" r="1.90" fill="#ff6a14" stroke="none" stroke-width="1"/>
<circle cx="120.00" cy="421.00" r="1.90" fill="#ff6a14" stroke="none" stroke-width="1"/>
<circle cx="115.50" cy="428.50" r="1.90" fill="#ff6a14" stroke="none" stroke-width="1"/>
<circle cx="115.50" cy="434.80" r="1.90" fill="#ff6a14" stroke="none" stroke-width="1"/>
<line x1="137.80" y1="488.30" x2="137.80" y2="491.30" stroke="#777" stroke-width="0.7"/>
<line x1="137.80" y1="391.80" x2="137.80" y2="402.70" stroke="#111" stroke-width="1.0"/>
<line x1="137.80" y1="417.60" x2="137.80" y2="428.60" stroke="#111" stroke-width="1.0"/>
<line x1="134.00" y1="391.80" x2="141.60" y2="391.80" stroke="#111" stroke-width="1.0"/>
<line x1="134.00" y1="428.60" x2="141.60" y2="428.60" stroke="#111" stroke-width="1.0"/>
<rect x="130.60" y="402.70" width="14.40" height="14.90" fill="#c4f4b8" stroke="#111" stroke-width="1.0"/>
<line x1="130.60" y1="407.30" x2="145.00" y2="407.30" stroke="#111" stroke-width="1.0"/>
<circle cx="137.80" cy="391.80" r="1.90" fill="#ff6a14" stroke="none" stroke-width="1"/>
<circle cx="132.80" cy="401.00" r="1.90" fill="#ff6a14" stroke="none" stroke-width="1"/>
<circle cx="143.30" cy="402.00" r="1.90" fill="#ff6a14" stroke="none" stroke-width="1"/>
<circle cx="137.80" cy="404.00" r="1.90" fill="#ff6a14" stroke="none" stroke-width="1"/>
<circle cx="134.80" cy="408.00" r="1.90" fill="#ff6a14" stroke="none" stroke-width="1"/>
<circle cx="140.80" cy="408.00" r="1.90" fill="#ff6a14" stroke="none" stroke-width="1"/>
<circle cx="137.80" cy="412.00" r="1.90" fill="#ff6a14" stroke="none" stroke-width="1"/>
<circle cx="132.80" cy="417.00" r="1.90" fill="#ff6a14" stroke="none" stroke-width="1"/>
<circle cx="142.80" cy="418.00" r="1.90" fill="#ff6a14" stroke="none" stroke-width="1"/>
<circle cx="137.80" cy="428.60" r="1.90" fill="#ff6a14" stroke="none" stroke-width="1"/>
<line x1="160.00" y1="488.30" x2="160.00" y2="491.30" stroke="#777" stroke-width="0.7"/>
<line x1="160.00" y1="416.60" x2="160.00" y2="420.70" stroke="#111" stroke-width="1.0"/>
<line x1="160.00" y1="434.80" x2="160.00" y2="438.30" stroke="#111" stroke-width="1.0"/>
<line x1="156.20" y1="416.60" x2="163.80" y2="416.60" stroke="#111" stroke-width="1.0"/>
<line x1="156.20" y1="438.30" x2="163.80" y2="438.30" stroke="#111" stroke-width="1.0"/>
<rect x="152.80" y="420.70" width="14.40" height="14.10" fill="#c4f4b8" stroke="#111" stroke-width="1.0"/>
<line x1="152.80" y1="427.10" x2="167.20" y2="427.10" stroke="#111" stroke-width="1.0"/>
<circle cx="157.50" cy="416.80" r="1.90" fill="#ff6a14" stroke="none" stroke-width="1"/>
<circle cx="162.50" cy="416.80" r="1.90" fill="#ff6a14" stroke="none" stroke-width="1"/>
<circle cx="155.50" cy="421.00" r="1.90" fill="#ff6a14" stroke="none" stroke-width="1"/>
<circle cx="160.00" cy="422.00" r="1.90" fill="#ff6a14" stroke="none" stroke-width="1"/>
<circle cx="164.50" cy="424.50" r="1.90" fill="#ff6a14" stroke="none" stroke-width="1"/>
<circle cx="160.00" cy="428.00" r="1.90" fill="#ff6a14" stroke="none" stroke-width="1"/>
<circle cx="154.50" cy="431.00" r="1.90" fill="#ff6a14" stroke="none" stroke-width="1"/>
<circle cx="165.50" cy="431.00" r="1.90" fill="#ff6a14" stroke="none" stroke-width="1"/>
<circle cx="160.00" cy="434.00" r="1.90" fill="#ff6a14" stroke="none" stroke-width="1"/>
<circle cx="165.00" cy="436.50" r="1.90" fill="#ff6a14" stroke="none" stroke-width="1"/>
<circle cx="155.00" cy="437.50" r="1.90" fill="#ff6a14" stroke="none" stroke-width="1"/>
<polyline points="49.4,443.1 49.4,414.4 71.9,414.4 71.9,420.3" fill="none" stroke="#666" stroke-width="0.8"/>
<polygon points="55.60,407.25 56.20,408.47 57.55,408.67 56.57,409.62 56.80,410.96 55.60,410.32 54.40,410.96 54.63,409.62 53.65,408.67 55.00,408.47" fill="#000"/>
<polygon points="60.40,407.25 61.00,408.47 62.35,408.67 61.37,409.62 61.60,410.96 60.40,410.32 59.20,410.96 59.43,409.62 58.45,408.67 59.80,408.47" fill="#000"/>
<polygon points="65.20,407.25 65.80,408.47 67.15,408.67 66.17,409.62 66.40,410.96 65.20,410.32 64.00,410.96 64.23,409.62 63.25,408.67 64.60,408.47" fill="#000"/>
<polyline points="49.4,471.9 49.4,475.2 93.8,475.2 93.8,461.7" fill="none" stroke="#666" stroke-width="0.8"/>
<polygon points="69.50,479.95 70.10,481.17 71.45,481.37 70.47,482.32 70.70,483.66 69.50,483.02 68.30,483.66 68.53,482.32 67.55,481.37 68.90,481.17" fill="#000"/>
<polygon points="74.30,479.95 74.90,481.17 76.25,481.37 75.27,482.32 75.50,483.66 74.30,483.02 73.10,483.66 73.33,482.32 72.35,481.37 73.70,481.17" fill="#000"/>
<polyline points="115.5,440.3 115.5,445.1 137.8,445.1 137.8,440.3" fill="none" stroke="#666" stroke-width="0.8"/>
<text x="126.40" y="453.50" font-size="7.9" text-anchor="middle" font-weight="normal" fill="#000">ns</text>
<polyline points="126.4,456.4 126.4,461.0 159.9,461.0 159.9,444.0" fill="none" stroke="#666" stroke-width="0.8"/>
<polygon points="143.00,465.75 143.60,466.97 144.95,467.17 143.97,468.12 144.20,469.46 143.00,468.82 141.80,469.46 142.03,468.12 141.05,467.17 142.40,466.97" fill="#000"/>
<text x="52.00" y="498.30" font-size="8.5" text-anchor="end" font-weight="normal" fill="#000" transform="rotate(-45 52.00 498.30)">DBM1Ac-S</text>
<text x="74.30" y="498.30" font-size="8.5" text-anchor="end" font-weight="normal" fill="#000" transform="rotate(-45 74.30 498.30)">S-sel-robust</text>
<text x="96.20" y="498.30" font-size="8.5" text-anchor="end" font-weight="normal" fill="#000" transform="rotate(-45 96.20 498.30)">S-sel-weak</text>
<text x="118.00" y="498.30" font-size="8.5" text-anchor="end" font-weight="normal" fill="#000" transform="rotate(-45 118.00 498.30)">NIL-R</text>
<text x="140.30" y="498.30" font-size="8.5" text-anchor="end" font-weight="normal" fill="#000" transform="rotate(-45 140.30 498.30)">R-sel-robust</text>
<text x="162.50" y="498.30" font-size="8.5" text-anchor="end" font-weight="normal" fill="#000" transform="rotate(-45 162.50 498.30)">R-sel-weak</text>
<text x="190.60" y="374.60" font-size="13.8" text-anchor="start" font-weight="bold" fill="#000">g</text>
<rect x="218.40" y="375.30" width="139.90" height="113.00" fill="none" stroke="#6a6a6a" stroke-width="0.9"/>
<line x1="215.40" y1="488.30" x2="218.40" y2="488.30" stroke="#777" stroke-width="0.7"/>
<text x="211.80" y="490.90" font-size="7.4" text-anchor="end" font-weight="normal" fill="#000">0</text>
<line x1="215.40" y1="460.05" x2="218.40" y2="460.05" stroke="#777" stroke-width="0.7"/>
<text x="211.80" y="462.65" font-size="7.4" text-anchor="end" font-weight="normal" fill="#000">2</text>
<line x1="215.40" y1="431.80" x2="218.40" y2="431.80" stroke="#777" stroke-width="0.7"/>
<text x="211.80" y="434.40" font-size="7.4" text-anchor="end" font-weight="normal" fill="#000">4</text>
<line x1="215.40" y1="403.55" x2="218.40" y2="403.55" stroke="#777" stroke-width="0.7"/>
<text x="211.80" y="406.15" font-size="7.4" text-anchor="end" font-weight="normal" fill="#000">6</text>
<line x1="215.40" y1="375.30" x2="218.40" y2="375.30" stroke="#777" stroke-width="0.7"/>
<text x="211.80" y="377.90" font-size="7.4" text-anchor="end" font-weight="normal" fill="#000">8</text>
<text x="198.00" y="431.80" font-size="8.5" text-anchor="middle" font-weight="normal" fill="#000" transform="rotate(-90 198.00 431.80)">20E titer (ng/g)</text>
<line x1="233.10" y1="488.30" x2="233.10" y2="491.30" stroke="#777" stroke-width="0.7"/>
<line x1="233.10" y1="450.30" x2="233.10" y2="458.00" stroke="#111" stroke-width="1.0"/>
<line x1="233.10" y1="475.60" x2="233.10" y2="482.80" stroke="#111" stroke-width="1.0"/>
<line x1="229.30" y1="450.30" x2="236.90" y2="450.30" stroke="#111" stroke-width="1.0"/>
<line x1="229.30" y1="482.80" x2="236.90" y2="482.80" stroke="#111" stroke-width="1.0"/>
<rect x="225.90" y="458.00" width="14.40" height="17.60" fill="#ffff00" stroke="#111" stroke-width="1.0"/>
<line x1="225.90" y1="467.90" x2="240.30" y2="467.90" stroke="#111" stroke-width="1.0"/>
<line x1="231.10" y1="467.90" x2="235.10" y2="467.90" stroke="#111" stroke-width="0.9"/>
<line x1="233.10" y1="465.90" x2="233.10" y2="469.90" stroke="#111" stroke-width="0.9"/>
<circle cx="233.10" cy="450.30" r="1.90" fill="#ff6a14" stroke="none" stroke-width="1"/>
<circle cx="238.60" cy="454.50" r="1.90" fill="#ff6a14" stroke="none" stroke-width="1"/>
<circle cx="233.10" cy="458.00" r="1.90" fill="#ff6a14" stroke="none" stroke-width="1"/>
<circle cx="230.10" cy="463.00" r="1.90" fill="#ff6a14" stroke="none" stroke-width="1"/>
<circle cx="235.10" cy="466.00" r="1.90" fill="#ff6a14" stroke="none" stroke-width="1"/>
<circle cx="227.60" cy="468.00" r="1.90" fill="#ff6a14" stroke="none" stroke-width="1"/>
<circle cx="238.60" cy="468.50" r="1.90" fill="#ff6a14" stroke="none" stroke-width="1"/>
<circle cx="233.10" cy="471.00" r="1.90" fill="#ff6a14" stroke="none" stroke-width="1"/>
<circle cx="231.10" cy="474.00" r="1.90" fill="#ff6a14" stroke="none" stroke-width="1"/>
<circle cx="233.10" cy="477.00" r="1.90" fill="#ff6a14" stroke="none" stroke-width="1"/>
<circle cx="233.10" cy="482.80" r="1.90" fill="#ff6a14" stroke="none" stroke-width="1"/>
<line x1="255.30" y1="488.30" x2="255.30" y2="491.30" stroke="#777" stroke-width="0.7"/>
<line x1="255.30" y1="426.60" x2="255.30" y2="436.30" stroke="#111" stroke-width="1.0"/>
<line x1="255.30" y1="449.30" x2="255.30" y2="457.60" stroke="#111" stroke-width="1.0"/>
<line x1="251.50" y1="426.60" x2="259.10" y2="426.60" stroke="#111" stroke-width="1.0"/>
<line x1="251.50" y1="457.60" x2="259.10" y2="457.60" stroke="#111" stroke-width="1.0"/>
<rect x="248.10" y="436.30" width="14.40" height="13.00" fill="#ffff00" stroke="#111" stroke-width="1.0"/>
<line x1="248.10" y1="444.60" x2="262.50" y2="444.60" stroke="#111" stroke-width="1.0"/>
<circle cx="255.30" cy="426.60" r="1.90" fill="#ff6a14" stroke="none" stroke-width="1"/>
<circle cx="255.30" cy="433.00" r="1.90" fill="#ff6a14" stroke="none" stroke-width="1"/>
<circle cx="251.80" cy="437.50" r="1.90" fill="#ff6a14" stroke="none" stroke-width="1"/>
<circle cx="258.30" cy="437.50" r="1.90" fill="#ff6a14" stroke="none" stroke-width="1"/>
<circle cx="255.30" cy="441.00" r="1.90" fill="#ff6a14" stroke="none" stroke-width="1"/>
<circle cx="250.30" cy="443.50" r="1.90" fill="#ff6a14" stroke="none" stroke-width="1"/>
<circle cx="258.80" cy="444.50" r="1.90" fill="#ff6a14" stroke="none" stroke-width="1"/>
<circle cx="253.30" cy="447.00" r="1.90" fill="#ff6a14" stroke="none" stroke-width="1"/>
<circle cx="260.80" cy="448.00" r="1.90" fill="#ff6a14" stroke="none" stroke-width="1"/>
<circle cx="255.30" cy="450.00" r="1.90" fill="#ff6a14" stroke="none" stroke-width="1"/>
<circle cx="255.30" cy="457.60" r="1.90" fill="#ff6a14" stroke="none" stroke-width="1"/>
<line x1="277.40" y1="488.30" x2="277.40" y2="491.30" stroke="#777" stroke-width="0.7"/>
<line x1="277.40" y1="429.00" x2="277.40" y2="440.40" stroke="#111" stroke-width="1.0"/>
<line x1="277.40" y1="450.30" x2="277.40" y2="459.70" stroke="#111" stroke-width="1.0"/>
<line x1="273.60" y1="429.00" x2="281.20" y2="429.00" stroke="#111" stroke-width="1.0"/>
<line x1="273.60" y1="459.70" x2="281.20" y2="459.70" stroke="#111" stroke-width="1.0"/>
<rect x="270.20" y="440.40" width="14.40" height="9.90" fill="#ffff00" stroke="#111" stroke-width="1.0"/>
<line x1="270.20" y1="445.60" x2="284.60" y2="445.60" stroke="#111" stroke-width="1.0"/>
<circle cx="271.90" cy="429.00" r="1.90" fill="#ff6a14" stroke="none" stroke-width="1"/>
<circle cx="277.40" cy="432.00" r="1.90" fill="#ff6a14" stroke="none" stroke-width="1"/>
<circle cx="277.40" cy="441.00" r="1.90" fill="#ff6a14" stroke="none" stroke-width="1"/>
<circle cx="271.90" cy="443.00" r="1.90" fill="#ff6a14" stroke="none" stroke-width="1"/>
<circle cx="282.40" cy="443.00" r="1.90" fill="#ff6a14" stroke="none" stroke-width="1"/>
<circle cx="277.40" cy="446.00" r="1.90" fill="#ff6a14" stroke="none" stroke-width="1"/>
<circle cx="273.40" cy="448.00" r="1.90" fill="#ff6a14" stroke="none" stroke-width="1"/>
<circle cx="282.90" cy="449.00" r="1.90" fill="#ff6a14" stroke="none" stroke-width="1"/>
<circle cx="277.40" cy="452.00" r="1.90" fill="#ff6a14" stroke="none" stroke-width="1"/>
<circle cx="277.40" cy="459.70" r="1.90" fill="#ff6a14" stroke="none" stroke-width="1"/>
<line x1="299.50" y1="488.30" x2="299.50" y2="491.30" stroke="#777" stroke-width="0.7"/>
<line x1="299.50" y1="395.10" x2="299.50" y2="417.20" stroke="#111" stroke-width="1.0"/>
<line x1="299.50" y1="443.40" x2="299.50" y2="452.30" stroke="#111" stroke-width="1.0"/>
<line x1="295.70" y1="395.10" x2="303.30" y2="395.10" stroke="#111" stroke-width="1.0"/>
<line x1="295.70" y1="452.30" x2="303.30" y2="452.30" stroke="#111" stroke-width="1.0"/>
<rect x="292.30" y="417.20" width="14.40" height="26.20" fill="#ffff00" stroke="#111" stroke-width="1.0"/>
<line x1="292.30" y1="430.20" x2="306.70" y2="430.20" stroke="#111" stroke-width="1.0"/>
<line x1="297.50" y1="429.00" x2="301.50" y2="429.00" stroke="#111" stroke-width="0.9"/>
<line x1="299.50" y1="427.00" x2="299.50" y2="431.00" stroke="#111" stroke-width="0.9"/>
<circle cx="299.50" cy="395.10" r="1.90" fill="#ff6a14" stroke="none" stroke-width="1"/>
<circle cx="296.00" cy="414.00" r="1.90" fill="#ff6a14" stroke="none" stroke-width="1"/>
<circle cx="303.00" cy="417.00" r="1.90" fill="#ff6a14" stroke="none" stroke-width="1"/>
<circle cx="296.00" cy="421.00" r="1.90" fill="#ff6a14" stroke="none" stroke-width="1"/>
<circle cx="303.00" cy="430.00" r="1.90" fill="#ff6a14" stroke="none" stroke-width="1"/>
<circle cx="297.50" cy="433.00" r="1.90" fill="#ff6a14" stroke="none" stroke-width="1"/>
<circle cx="299.50" cy="436.00" r="1.90" fill="#ff6a14" stroke="none" stroke-width="1"/>
<circle cx="296.00" cy="443.40" r="1.90" fill="#ff6a14" stroke="none" stroke-width="1"/>
<circle cx="303.00" cy="443.40" r="1.90" fill="#ff6a14" stroke="none" stroke-width="1"/>
<circle cx="299.50" cy="452.30" r="1.90" fill="#ff6a14" stroke="none" stroke-width="1"/>
<line x1="321.60" y1="488.30" x2="321.60" y2="491.30" stroke="#777" stroke-width="0.7"/>
<line x1="321.60" y1="395.50" x2="321.60" y2="411.60" stroke="#111" stroke-width="1.0"/>
<line x1="321.60" y1="433.30" x2="321.60" y2="443.00" stroke="#111" stroke-width="1.0"/>
<line x1="317.80" y1="395.50" x2="325.40" y2="395.50" stroke="#111" stroke-width="1.0"/>
<line x1="317.80" y1="443.00" x2="325.40" y2="443.00" stroke="#111" stroke-width="1.0"/>
<rect x="314.40" y="411.60" width="14.40" height="21.70" fill="#ffff00" stroke="#111" stroke-width="1.0"/>
<line x1="314.40" y1="425.50" x2="328.80" y2="425.50" stroke="#111" stroke-width="1.0"/>
<circle cx="321.60" cy="395.50" r="1.90" fill="#ff6a14" stroke="none" stroke-width="1"/>
<circle cx="321.60" cy="401.00" r="1.90" fill="#ff6a14" stroke="none" stroke-width="1"/>
<circle cx="321.60" cy="413.00" r="1.90" fill="#ff6a14" stroke="none" stroke-width="1"/>
<circle cx="321.60" cy="417.00" r="1.90" fill="#ff6a14" stroke="none" stroke-width="1"/>
<circle cx="321.60" cy="420.50" r="1.90" fill="#ff6a14" stroke="none" stroke-width="1"/>
<circle cx="318.10" cy="432.00" r="1.90" fill="#ff6a14" stroke="none" stroke-width="1"/>
<circle cx="325.10" cy="431.00" r="1.90" fill="#ff6a14" stroke="none" stroke-width="1"/>
<circle cx="321.60" cy="436.00" r="1.90" fill="#ff6a14" stroke="none" stroke-width="1"/>
<circle cx="321.60" cy="443.00" r="1.90" fill="#ff6a14" stroke="none" stroke-width="1"/>
<line x1="343.60" y1="488.30" x2="343.60" y2="491.30" stroke="#777" stroke-width="0.7"/>
<line x1="343.60" y1="410.40" x2="343.60" y2="422.40" stroke="#111" stroke-width="1.0"/>
<line x1="343.60" y1="439.50" x2="343.60" y2="446.50" stroke="#111" stroke-width="1.0"/>
<line x1="339.80" y1="410.40" x2="347.40" y2="410.40" stroke="#111" stroke-width="1.0"/>
<line x1="339.80" y1="446.50" x2="347.40" y2="446.50" stroke="#111" stroke-width="1.0"/>
<rect x="336.40" y="422.40" width="14.40" height="17.10" fill="#ffff00" stroke="#111" stroke-width="1.0"/>
<line x1="336.40" y1="430.20" x2="350.80" y2="430.20" stroke="#111" stroke-width="1.0"/>
<circle cx="343.60" cy="410.40" r="1.90" fill="#ff6a14" stroke="none" stroke-width="1"/>
<circle cx="343.60" cy="415.50" r="1.90" fill="#ff6a14" stroke="none" stroke-width="1"/>
<circle cx="340.10" cy="423.00" r="1.90" fill="#ff6a14" stroke="none" stroke-width="1"/>
<circle cx="347.10" cy="425.00" r="1.90" fill="#ff6a14" stroke="none" stroke-width="1"/>
<circle cx="343.60" cy="429.00" r="1.90" fill="#ff6a14" stroke="none" stroke-width="1"/>
<circle cx="340.10" cy="433.00" r="1.90" fill="#ff6a14" stroke="none" stroke-width="1"/>
<circle cx="347.10" cy="436.00" r="1.90" fill="#ff6a14" stroke="none" stroke-width="1"/>
<circle cx="343.60" cy="438.00" r="1.90" fill="#ff6a14" stroke="none" stroke-width="1"/>
<circle cx="347.10" cy="442.00" r="1.90" fill="#ff6a14" stroke="none" stroke-width="1"/>
<circle cx="343.60" cy="446.50" r="1.90" fill="#ff6a14" stroke="none" stroke-width="1"/>
<polyline points="233.1,445.2 233.1,410.4 266.6,410.4 266.6,417.2" fill="none" stroke="#666" stroke-width="0.8"/>
<polyline points="255.2,423.5 255.2,417.2 277.6,417.2 277.6,423.5" fill="none" stroke="#666" stroke-width="0.8"/>
<polygon points="245.30,402.75 245.90,403.97 247.25,404.17 246.27,405.12 246.50,406.46 245.30,405.82 244.10,406.46 244.33,405.12 243.35,404.17 244.70,403.97" fill="#000"/>
<polygon points="250.10,402.75 250.70,403.97 252.05,404.17 251.07,405.12 251.30,406.46 250.10,405.82 248.90,406.46 249.13,405.12 248.15,404.17 249.50,403.97" fill="#000"/>
<polygon points="254.90,402.75 255.50,403.97 256.85,404.17 255.87,405.12 256.10,406.46 254.90,405.82 253.70,406.46 253.93,405.12 252.95,404.17 254.30,403.97" fill="#000"/>
<polyline points="299.5,456.0 299.5,462.2 343.9,462.2 343.9,456.0" fill="none" stroke="#666" stroke-width="0.8"/>
<text x="321.80" y="471.00" font-size="7.9" text-anchor="middle" font-weight="normal" fill="#000">ns</text>
<text x="235.60" y="498.30" font-size="8.5" text-anchor="end" font-weight="normal" fill="#000" transform="rotate(-45 235.60 498.30)">DBM1Ac-S</text>
<text x="257.80" y="498.30" font-size="8.5" text-anchor="end" font-weight="normal" fill="#000" transform="rotate(-45 257.80 498.30)">S-sel-robust</text>
<text x="279.90" y="498.30" font-size="8.5" text-anchor="end" font-weight="normal" fill="#000" transform="rotate(-45 279.90 498.30)">S-sel-weak</text>
<text x="302.00" y="498.30" font-size="8.5" text-anchor="end" font-weight="normal" fill="#000" transform="rotate(-45 302.00 498.30)">NIL-R</text>
<text x="324.10" y="498.30" font-size="8.5" text-anchor="end" font-weight="normal" fill="#000" transform="rotate(-45 324.10 498.30)">R-sel-robust</text>
<text x="346.10" y="498.30" font-size="8.5" text-anchor="end" font-weight="normal" fill="#000" transform="rotate(-45 346.10 498.30)">R-sel-weak</text>
</svg></body></html>
